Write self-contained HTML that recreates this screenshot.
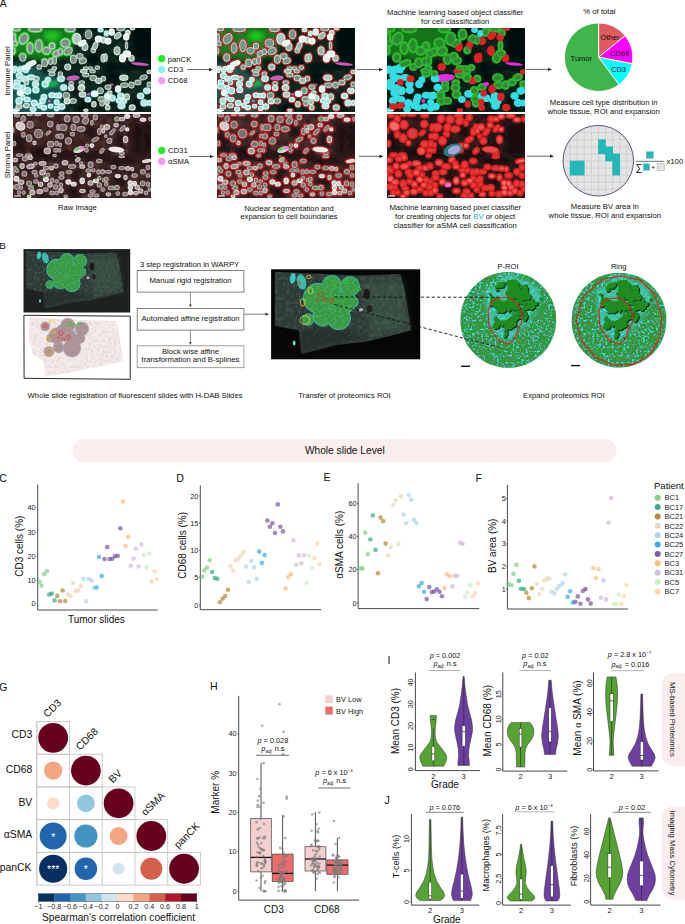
<!DOCTYPE html>
<html><head><meta charset="utf-8"><style>
html,body{margin:0;padding:0;background:#fff;}
svg{display:block;}
text{font-family:"Liberation Sans", sans-serif;}
</style></head><body>
<svg width="685" height="924" viewBox="0 0 685 924">
<rect width="685" height="924" fill="#fff"/>
<defs><g id="i_tumor0"><ellipse cx="3.4" cy="1.0" rx="3.3" ry="1.9"/><ellipse cx="22.2" cy="1.3" rx="6.3" ry="2.3"/><ellipse cx="10.7" cy="10.7" rx="4.1" ry="5.5" transform="rotate(30 10.7 10.7)"/><ellipse cx="1" cy="10" rx="1.5" ry="4.4"/><ellipse cx="2" cy="15.4" rx="2.3" ry="2.3"/><ellipse cx="17.1" cy="20.1" rx="3.0" ry="5.2"/><ellipse cx="25.9" cy="17.8" rx="3.3" ry="5.9"/><ellipse cx="33.6" cy="22.8" rx="3.8" ry="3.3"/><ellipse cx="39" cy="18.1" rx="2.7" ry="3.0"/><ellipse cx="43.3" cy="25.5" rx="3.3" ry="2.7" transform="rotate(-30 43.3 25.5)"/><ellipse cx="9.7" cy="29.5" rx="3.0" ry="3.8"/><ellipse cx="0.7" cy="22.8" rx="1.2" ry="3.0"/><ellipse cx="31.6" cy="34.9" rx="3.0" ry="3.8"/><ellipse cx="37.6" cy="33.6" rx="2.3" ry="3.0"/><ellipse cx="41.6" cy="32.2" rx="1.9" ry="4.1"/><ellipse cx="26.2" cy="39" rx="2.3" ry="2.3"/><ellipse cx="41.3" cy="40.3" rx="2.3" ry="1.7"/><ellipse cx="57.4" cy="1.3" rx="4.9" ry="2.3"/><ellipse cx="52.4" cy="15.1" rx="4.4" ry="4.1"/><ellipse cx="55.1" cy="23.2" rx="4.4" ry="3.3" transform="rotate(-30 55.1 23.2)"/><ellipse cx="47.3" cy="23.8" rx="2.3" ry="3.0"/><ellipse cx="75.5" cy="6.4" rx="3.3" ry="4.4"/><ellipse cx="80.3" cy="22.2" rx="2.3" ry="2.6"/><ellipse cx="60.4" cy="31.2" rx="3.0" ry="4.1"/><ellipse cx="66.8" cy="28.2" rx="3.3" ry="2.7"/><ellipse cx="69.8" cy="32.9" rx="3.8" ry="2.7" transform="rotate(-20 69.8 32.9)"/><ellipse cx="84.3" cy="39.6" rx="2.3" ry="1.9"/><ellipse cx="72.9" cy="40.3" rx="2.6" ry="1.6"/><ellipse cx="77.6" cy="40.3" rx="2.3" ry="1.6"/><ellipse cx="107.8" cy="1" rx="4.1" ry="1.9"/><ellipse cx="113.5" cy="17.5" rx="1.2" ry="3.8"/><ellipse cx="39" cy="46" rx="3.0" ry="1.9"/><ellipse cx="38.6" cy="42.7" rx="3.8" ry="1.2"/><ellipse cx="47.3" cy="46" rx="2.3" ry="2.3"/><ellipse cx="79.6" cy="43.3" rx="2.7" ry="1.7"/><ellipse cx="72.9" cy="47" rx="3.3" ry="1.9"/><ellipse cx="80.3" cy="50.1" rx="3.3" ry="2.7"/><ellipse cx="90.3" cy="50.7" rx="2.3" ry="2.3"/><ellipse cx="68.8" cy="54.8" rx="2.7" ry="1.9"/><ellipse cx="58.1" cy="55.4" rx="2.3" ry="1.9"/><ellipse cx="87.3" cy="62.8" rx="3.0" ry="3.0"/><ellipse cx="53.4" cy="67.5" rx="3.3" ry="3.0"/><ellipse cx="60.1" cy="72.9" rx="3.3" ry="2.3"/><ellipse cx="88.3" cy="70.9" rx="3.3" ry="2.3"/><ellipse cx="89" cy="75.6" rx="2.3" ry="2.3"/><ellipse cx="111.5" cy="57.1" rx="3.8" ry="2.3"/><ellipse cx="118.5" cy="57.1" rx="2.7" ry="3.0"/><ellipse cx="95" cy="59.1" rx="3.0" ry="2.3"/><ellipse cx="130.6" cy="49.4" rx="3.8" ry="2.3" transform="rotate(-20 130.6 49.4)"/><ellipse cx="124.9" cy="54.4" rx="3.0" ry="2.3"/><ellipse cx="136.3" cy="56.4" rx="2.3" ry="2.3"/></g><g id="i_tumor1"><ellipse cx="63.8" cy="10.7" rx="4.1" ry="5.5"/><ellipse cx="90.3" cy="12.1" rx="2.3" ry="3.0"/><ellipse cx="114.8" cy="4.7" rx="2.3" ry="2.3"/><ellipse cx="58.1" cy="60.1" rx="2.7" ry="2.7"/><ellipse cx="68.5" cy="59.8" rx="3.3" ry="2.7"/><ellipse cx="69.5" cy="66.5" rx="3.3" ry="2.7"/><ellipse cx="54.1" cy="73.2" rx="3.0" ry="2.7"/><ellipse cx="110.8" cy="49.7" rx="4.1" ry="2.7"/></g><g id="i_tumor2"><ellipse cx="18.1" cy="35.6" rx="5.2" ry="2.3" transform="rotate(-20 18.1 35.6)"/><ellipse cx="69.2" cy="15.1" rx="4.1" ry="2.3" transform="rotate(-30 69.2 15.1)"/><ellipse cx="85.6" cy="11.1" rx="3.3" ry="3.0"/><ellipse cx="98.7" cy="4" rx="2.7" ry="3.3"/><ellipse cx="113.8" cy="25.9" rx="3.8" ry="3.0"/><ellipse cx="109.5" cy="30.2" rx="3.0" ry="3.8"/></g><g id="i_tumor"><use href="#i_tumor0"/><use href="#i_tumor1"/><use href="#i_tumor2"/></g><g id="i_cd30"><ellipse cx="2" cy="40.3" rx="2.3" ry="1.7"/><ellipse cx="8" cy="40.3" rx="2.3" ry="1.7"/><ellipse cx="87.6" cy="2" rx="2.3" ry="1.7"/><ellipse cx="1.3" cy="43" rx="1.7" ry="1.7"/><ellipse cx="6.7" cy="42.7" rx="2.3" ry="1.7"/><ellipse cx="6.4" cy="47.7" rx="3.0" ry="2.7"/><ellipse cx="18.1" cy="49.4" rx="3.8" ry="2.3"/><ellipse cx="4" cy="54.1" rx="3.0" ry="2.3"/><ellipse cx="4" cy="58.5" rx="3.8" ry="2.7"/><ellipse cx="10.1" cy="59.5" rx="2.3" ry="2.3"/><ellipse cx="14.4" cy="62.8" rx="3.3" ry="3.3"/><ellipse cx="22.8" cy="62.1" rx="3.0" ry="2.7"/><ellipse cx="10.1" cy="69.5" rx="1.9" ry="2.3"/><ellipse cx="14.1" cy="71.5" rx="3.0" ry="2.3"/><ellipse cx="6" cy="72.9" rx="3.0" ry="3.0"/><ellipse cx="21.2" cy="74.9" rx="3.0" ry="2.7"/><ellipse cx="20.1" cy="81" rx="2.7" ry="2.3"/><ellipse cx="2.7" cy="82.3" rx="2.3" ry="1.6"/><ellipse cx="32.2" cy="56.1" rx="3.0" ry="3.0"/><ellipse cx="30.9" cy="68.9" rx="2.7" ry="2.3"/><ellipse cx="29.5" cy="72.9" rx="2.7" ry="2.3"/><ellipse cx="39" cy="67.2" rx="3.0" ry="2.3"/><ellipse cx="43.7" cy="67.5" rx="2.3" ry="2.3"/><ellipse cx="43.7" cy="74.2" rx="2.3" ry="2.3"/><ellipse cx="37.6" cy="78.3" rx="2.3" ry="1.9"/><ellipse cx="30.9" cy="79.6" rx="2.7" ry="2.3"/><ellipse cx="43.7" cy="80.3" rx="2.3" ry="2.3"/><ellipse cx="26.9" cy="77.6" rx="2.3" ry="2.3"/><ellipse cx="48" cy="50.7" rx="3.3" ry="2.7"/><ellipse cx="46.7" cy="67.5" rx="1.7" ry="2.7"/><ellipse cx="74.9" cy="71.5" rx="2.7" ry="2.3"/><ellipse cx="48.7" cy="78.6" rx="3.0" ry="2.7"/><ellipse cx="99.4" cy="70.2" rx="2.7" ry="2.7"/><ellipse cx="107.8" cy="67.9" rx="3.0" ry="2.7"/><ellipse cx="105.8" cy="72.6" rx="2.3" ry="2.3"/><ellipse cx="111.1" cy="72.9" rx="2.3" ry="2.3"/><ellipse cx="127.6" cy="67.9" rx="3.0" ry="2.7"/><ellipse cx="136.3" cy="74.9" rx="2.3" ry="2.3"/></g><g id="i_cd31"><ellipse cx="93.3" cy="5.4" rx="1.9" ry="2.3"/><ellipse cx="12.8" cy="42.7" rx="2.5" ry="1.7"/><ellipse cx="10.7" cy="50.7" rx="3.3" ry="2.7"/><ellipse cx="22.5" cy="56.1" rx="3.0" ry="3.0"/><ellipse cx="34.9" cy="51.7" rx="2.3" ry="2.3"/><ellipse cx="50.7" cy="59.5" rx="3.0" ry="2.7"/><ellipse cx="108.5" cy="77.9" rx="3.3" ry="2.7"/><ellipse cx="134" cy="62.8" rx="3.3" ry="2.7"/><ellipse cx="131" cy="74.9" rx="3.0" ry="3.0"/></g><g id="i_cd32"><ellipse cx="13.4" cy="39.6" rx="3.8" ry="2.3"/><ellipse cx="7.4" cy="64.8" rx="3.0" ry="3.0"/><ellipse cx="81.6" cy="65.8" rx="3.3" ry="2.7"/><ellipse cx="94.7" cy="68.2" rx="3.0" ry="3.0"/></g><g id="i_cd3"><use href="#i_cd30"/><use href="#i_cd31"/><use href="#i_cd32"/></g><g id="i_red0"><ellipse cx="71.9" cy="18.8" rx="3.0" ry="3.8"/><ellipse cx="82.3" cy="17.8" rx="2.3" ry="4.1" transform="rotate(20 82.3 17.8)"/><ellipse cx="54.7" cy="39" rx="3.0" ry="3.0"/><ellipse cx="90.3" cy="30.2" rx="2.3" ry="3.8"/><ellipse cx="104.8" cy="7.7" rx="3.8" ry="2.5" transform="rotate(-40 104.8 7.7)"/><ellipse cx="119.5" cy="0.7" rx="2.3" ry="1.2"/><ellipse cx="104.1" cy="22.8" rx="3.0" ry="4.1"/><ellipse cx="118.5" cy="30.2" rx="2.7" ry="3.0"/><ellipse cx="92.7" cy="29.5" rx="1.6" ry="3.8"/><ellipse cx="23.5" cy="50.7" rx="2.7" ry="2.3"/><ellipse cx="13.4" cy="54.4" rx="2.3" ry="2.3"/><ellipse cx="13.4" cy="77.6" rx="3.0" ry="2.3"/><ellipse cx="6" cy="78.6" rx="3.0" ry="2.3"/><ellipse cx="70.8" cy="43.3" rx="3.3" ry="1.9"/><ellipse cx="85.6" cy="52.7" rx="3.0" ry="2.7"/><ellipse cx="80.9" cy="76.3" rx="2.3" ry="2.7"/><ellipse cx="72.9" cy="82.3" rx="2.3" ry="1.2"/><ellipse cx="96.7" cy="65.2" rx="2.3" ry="2.3"/><ellipse cx="113.8" cy="68.9" rx="2.7" ry="3.0"/><ellipse cx="119.2" cy="79.6" rx="3.0" ry="2.7"/><ellipse cx="94" cy="74.2" rx="2.3" ry="2.3"/><ellipse cx="94.7" cy="79.6" rx="2.3" ry="2.3"/><ellipse cx="136.3" cy="44" rx="2.3" ry="1.7"/></g><g id="i_red1"></g><g id="i_red2"><ellipse cx="113.2" cy="9.1" rx="2.7" ry="3.0"/><ellipse cx="95" cy="13.1" rx="3.0" ry="3.0"/><ellipse cx="105.1" cy="61.1" rx="2.7" ry="3.3"/></g><g id="i_red"><use href="#i_red0"/><use href="#i_red1"/><use href="#i_red2"/></g><g id="i_all"><use href="#i_tumor"/><use href="#i_cd3"/><use href="#i_red"/></g><clipPath id="gclipA"><polygon points="-3,-3 62,-3 62,10 58,28 46,30 30,33 14,30 -3,28 "/><polygon points="29,50 46,50 46,62 29,62"/></clipPath><g id="s_0"><ellipse cx="4" cy="1.3" rx="2.5" ry="1.6"/><ellipse cx="10.1" cy="4.7" rx="2.2" ry="2.8"/><ellipse cx="17.1" cy="10.7" rx="3.1" ry="3.4"/><ellipse cx="25.5" cy="19.5" rx="4.0" ry="4.3"/><ellipse cx="16.1" cy="24.2" rx="2.8" ry="3.4"/><ellipse cx="10.4" cy="20.8" rx="1.8" ry="2.5"/><ellipse cx="35.3" cy="18.8" rx="2.8" ry="1.2" transform="rotate(-40 35.3 18.8)"/><ellipse cx="37.3" cy="10.1" rx="2.8" ry="2.8"/><ellipse cx="37.6" cy="1.3" rx="3.1" ry="1.6"/><ellipse cx="24.8" cy="0.7" rx="3.1" ry="0.9"/><ellipse cx="16.8" cy="0.7" rx="2.5" ry="0.9"/><ellipse cx="45" cy="13.4" rx="1.3" ry="2.8"/><ellipse cx="1.3" cy="29.5" rx="1.6" ry="2.2"/><ellipse cx="37.6" cy="30.2" rx="3.1" ry="2.8"/><ellipse cx="43.7" cy="29.5" rx="1.8" ry="2.2"/><ellipse cx="43" cy="36.3" rx="2.2" ry="1.8"/><ellipse cx="41.6" cy="41.6" rx="1.8" ry="1.3"/><ellipse cx="6.7" cy="41" rx="3.1" ry="1.3"/><ellipse cx="15.4" cy="41" rx="3.1" ry="1.3"/><ellipse cx="0" cy="16.1" rx="0.9" ry="2.5"/><ellipse cx="44.3" cy="22.2" rx="1.6" ry="1.8"/><ellipse cx="54.1" cy="4.7" rx="2.8" ry="3.1"/><ellipse cx="63.1" cy="5.4" rx="3.1" ry="3.1"/><ellipse cx="71.5" cy="1.3" rx="3.4" ry="1.6"/><ellipse cx="72.5" cy="6.7" rx="2.8" ry="3.4" transform="rotate(30 72.5 6.7)"/><ellipse cx="82.3" cy="3.4" rx="2.2" ry="2.5"/><ellipse cx="78.9" cy="8.7" rx="1.3" ry="2.5"/><ellipse cx="50" cy="13.4" rx="4.0" ry="3.1"/><ellipse cx="60.4" cy="13.4" rx="2.5" ry="3.1"/><ellipse cx="68.2" cy="15.1" rx="4.0" ry="2.5"/><ellipse cx="48" cy="22.2" rx="2.5" ry="2.5"/><ellipse cx="59.4" cy="20.1" rx="2.2" ry="1.8"/><ellipse cx="55.4" cy="26.9" rx="3.1" ry="3.1"/><ellipse cx="86.3" cy="17.5" rx="1.8" ry="3.1"/><ellipse cx="89" cy="12.8" rx="1.6" ry="1.8"/><ellipse cx="82.3" cy="25.5" rx="3.7" ry="1.8" transform="rotate(-30 82.3 25.5)"/><ellipse cx="74.2" cy="31.6" rx="1.8" ry="1.6"/><ellipse cx="73.5" cy="36.3" rx="1.8" ry="1.8"/><ellipse cx="89" cy="36.9" rx="1.6" ry="2.8" transform="rotate(40 89 36.9)"/><ellipse cx="47.3" cy="30.9" rx="1.3" ry="1.8"/><ellipse cx="46.7" cy="36.3" rx="1.3" ry="1.8"/><ellipse cx="104.1" cy="5" rx="2.5" ry="2.2"/><ellipse cx="109.5" cy="14.4" rx="1.6" ry="3.4" transform="rotate(40 109.5 14.4)"/><ellipse cx="99.4" cy="17.8" rx="1.6" ry="3.7" transform="rotate(40 99.4 17.8)"/><ellipse cx="96.4" cy="26.9" rx="2.5" ry="2.5"/><ellipse cx="108.8" cy="39.3" rx="2.5" ry="1.3"/><ellipse cx="92.7" cy="22.2" rx="1.3" ry="1.3"/><ellipse cx="137" cy="5" rx="1.3" ry="1.8"/><ellipse cx="11.8" cy="44.7" rx="2.5" ry="2.2"/><ellipse cx="2" cy="55.1" rx="1.8" ry="2.5"/><ellipse cx="4" cy="56.8" rx="1.8" ry="1.8"/><ellipse cx="11.4" cy="59.8" rx="2.5" ry="2.5"/><ellipse cx="21.5" cy="58.1" rx="2.5" ry="1.8"/><ellipse cx="23.2" cy="61.5" rx="1.8" ry="1.8"/><ellipse cx="22.5" cy="49.7" rx="1.8" ry="1.3"/><ellipse cx="32.9" cy="54.1" rx="2.5" ry="1.8"/><ellipse cx="43" cy="52.1" rx="2.2" ry="2.2"/><ellipse cx="34.9" cy="60.8" rx="1.8" ry="1.8"/><ellipse cx="16.1" cy="69.5" rx="2.5" ry="2.5"/><ellipse cx="22.8" cy="67.5" rx="2.2" ry="1.8"/><ellipse cx="39" cy="66.2" rx="1.8" ry="2.2"/><ellipse cx="43.7" cy="67.5" rx="1.8" ry="1.6"/><ellipse cx="42.6" cy="72.9" rx="2.2" ry="2.2"/><ellipse cx="4" cy="72.9" rx="2.2" ry="2.5"/><ellipse cx="8.1" cy="73.6" rx="1.6" ry="1.8"/><ellipse cx="18.1" cy="74.2" rx="2.5" ry="1.6"/><ellipse cx="32.9" cy="75.6" rx="2.2" ry="1.8"/><ellipse cx="10.7" cy="78.6" rx="1.6" ry="1.8"/><ellipse cx="6" cy="78.6" rx="1.6" ry="1.8"/><ellipse cx="39" cy="78.9" rx="2.2" ry="1.8"/><ellipse cx="43.7" cy="78.9" rx="1.8" ry="1.8"/><ellipse cx="0" cy="72.9" rx="1.3" ry="1.8"/><ellipse cx="0" cy="60.1" rx="1.3" ry="1.8"/><ellipse cx="59.1" cy="52.4" rx="3.7" ry="1.8"/><ellipse cx="68.2" cy="49.4" rx="1.8" ry="1.6"/><ellipse cx="77.6" cy="50.7" rx="2.5" ry="2.8"/><ellipse cx="86.3" cy="47" rx="2.8" ry="1.8"/><ellipse cx="56.1" cy="58.1" rx="2.8" ry="1.6"/><ellipse cx="48.7" cy="59.5" rx="2.2" ry="1.8"/><ellipse cx="48.4" cy="63.5" rx="2.5" ry="1.8"/><ellipse cx="75.5" cy="56.4" rx="2.5" ry="1.6"/><ellipse cx="80.3" cy="56.4" rx="1.8" ry="1.6"/><ellipse cx="85.6" cy="58.1" rx="1.8" ry="2.2"/><ellipse cx="89.7" cy="57.8" rx="1.8" ry="2.2"/><ellipse cx="48" cy="70.9" rx="1.8" ry="1.8"/><ellipse cx="86.3" cy="70.9" rx="2.2" ry="2.2"/><ellipse cx="86.3" cy="64.2" rx="1.8" ry="1.6"/><ellipse cx="91" cy="66.2" rx="1.6" ry="1.8"/><ellipse cx="79.6" cy="77.6" rx="2.5" ry="1.8"/><ellipse cx="77.6" cy="81.6" rx="2.5" ry="1.6"/><ellipse cx="83.6" cy="81.6" rx="2.2" ry="1.6"/><ellipse cx="89.7" cy="75.6" rx="1.8" ry="1.8"/><ellipse cx="52.7" cy="82.3" rx="1.8" ry="1.3"/><ellipse cx="108.8" cy="42.7" rx="2.8" ry="0.9"/><ellipse cx="100.4" cy="53.1" rx="2.5" ry="1.8"/><ellipse cx="108.8" cy="54.1" rx="3.1" ry="1.6"/><ellipse cx="95.4" cy="57.8" rx="3.1" ry="1.6"/><ellipse cx="121.6" cy="61.5" rx="2.8" ry="1.8"/><ellipse cx="130" cy="57.8" rx="2.5" ry="2.2"/><ellipse cx="135" cy="53.4" rx="1.8" ry="2.2"/><ellipse cx="135" cy="61.5" rx="1.8" ry="1.8"/><ellipse cx="93.3" cy="65.2" rx="1.8" ry="2.2"/><ellipse cx="93.3" cy="70.2" rx="1.8" ry="1.8"/><ellipse cx="129.6" cy="69.5" rx="2.2" ry="2.5"/><ellipse cx="135" cy="70.2" rx="1.8" ry="2.2"/><ellipse cx="133" cy="78.9" rx="1.8" ry="1.8"/><ellipse cx="112.1" cy="80" rx="2.5" ry="1.8"/><ellipse cx="98.7" cy="73.9" rx="3.4" ry="1.8"/><ellipse cx="104.1" cy="73.6" rx="2.2" ry="2.2"/><ellipse cx="104.8" cy="79.6" rx="1.8" ry="1.8"/><ellipse cx="136.3" cy="75.6" rx="1.3" ry="1.8"/></g><g id="s_1"><ellipse cx="21.5" cy="28.9" rx="1.6" ry="1.8"/><ellipse cx="34.3" cy="36.9" rx="3.1" ry="2.8"/><ellipse cx="90.3" cy="16.8" rx="1.6" ry="2.2"/><ellipse cx="109.1" cy="5" rx="2.5" ry="1.8"/><ellipse cx="123.6" cy="1.7" rx="3.4" ry="1.6"/><ellipse cx="103.1" cy="11.1" rx="2.2" ry="1.8"/><ellipse cx="94" cy="13.1" rx="2.8" ry="2.5"/><ellipse cx="112.5" cy="25.5" rx="2.2" ry="3.1"/><ellipse cx="2" cy="46" rx="2.5" ry="1.8"/><ellipse cx="17.1" cy="43.7" rx="2.2" ry="1.8"/><ellipse cx="9.1" cy="52.1" rx="2.2" ry="2.5"/><ellipse cx="17.5" cy="52.4" rx="3.7" ry="2.2" transform="rotate(-10 17.5 52.4)"/><ellipse cx="29.5" cy="49.4" rx="3.4" ry="1.8"/><ellipse cx="38.3" cy="54.1" rx="2.2" ry="1.8"/><ellipse cx="29.5" cy="58.5" rx="2.8" ry="2.5"/><ellipse cx="8.1" cy="68.2" rx="2.8" ry="2.2"/><ellipse cx="27.5" cy="70.2" rx="2.2" ry="2.2"/><ellipse cx="36.9" cy="70.9" rx="2.2" ry="2.2"/><ellipse cx="26.9" cy="77.6" rx="2.8" ry="2.2"/><ellipse cx="19.5" cy="78.6" rx="2.5" ry="2.2"/><ellipse cx="52" cy="48.7" rx="2.8" ry="2.2"/><ellipse cx="64.8" cy="45.7" rx="2.5" ry="1.8" transform="rotate(-40 64.8 45.7)"/><ellipse cx="69.2" cy="52.7" rx="2.5" ry="1.6"/><ellipse cx="48" cy="76.3" rx="2.2" ry="2.5"/><ellipse cx="77.6" cy="68.9" rx="2.5" ry="2.2"/><ellipse cx="69.5" cy="76.9" rx="2.8" ry="1.6"/><ellipse cx="114.8" cy="54.4" rx="2.2" ry="1.8"/><ellipse cx="119.2" cy="55.1" rx="1.6" ry="1.8"/><ellipse cx="112.5" cy="63.5" rx="1.6" ry="2.2"/><ellipse cx="124.2" cy="73.2" rx="2.2" ry="2.2"/><ellipse cx="127.6" cy="76.9" rx="2.2" ry="2.2"/><ellipse cx="122.9" cy="79" rx="2.2" ry="1.8"/><ellipse cx="95.4" cy="80.3" rx="2.2" ry="1.6"/></g><g id="s_2"><ellipse cx="7.4" cy="12.1" rx="4.6" ry="4.0" transform="rotate(30 7.4 12.1)"/><ellipse cx="78.9" cy="31.6" rx="1.8" ry="1.8"/><ellipse cx="114.2" cy="2.4" rx="2.5" ry="1.8"/><ellipse cx="130" cy="5.7" rx="2.8" ry="1.6"/><ellipse cx="114.2" cy="15.4" rx="1.6" ry="1.6"/><ellipse cx="3.4" cy="64.8" rx="2.5" ry="2.5"/><ellipse cx="32.9" cy="65.5" rx="2.5" ry="2.2"/><ellipse cx="16.1" cy="82.3" rx="1.8" ry="1.3"/><ellipse cx="75.9" cy="61.1" rx="1.8" ry="1.8"/><ellipse cx="69.2" cy="66.8" rx="2.2" ry="2.8"/><ellipse cx="55.4" cy="67.9" rx="2.5" ry="2.2"/><ellipse cx="60.8" cy="70.2" rx="2.5" ry="1.8"/><ellipse cx="82.9" cy="66.8" rx="2.5" ry="1.8"/><ellipse cx="133.6" cy="47" rx="4.3" ry="1.3" transform="rotate(-10 133.6 47)"/><ellipse cx="104.8" cy="62.1" rx="2.5" ry="1.6"/><ellipse cx="117.2" cy="68.9" rx="2.2" ry="2.2"/><ellipse cx="121.6" cy="69.5" rx="1.8" ry="2.2"/><ellipse cx="117.5" cy="73.6" rx="2.2" ry="2.2"/><ellipse cx="117.5" cy="78.6" rx="2.2" ry="2.2"/></g><g id="s_all"><use href="#s_0"/><use href="#s_1"/><use href="#s_2"/></g>
<filter id="fblur" x="-10%" y="-10%" width="120%" height="120%"><feGaussianBlur stdDeviation="2.5"/></filter><filter id="fblur1" x="-20%" y="-20%" width="140%" height="140%"><feGaussianBlur stdDeviation="1.5"/></filter>
<filter id="soft" x="0" y="0" width="100%" height="100%"><feGaussianBlur stdDeviation="0.45"/></filter>
<filter id="fnoise" x="0" y="0" width="100%" height="100%"><feTurbulence type="fractalNoise" baseFrequency="0.15" numOctaves="2" seed="3" result="t"/><feColorMatrix in="t" type="matrix" values="0 0 0 0 0  0 0 0 0 0  0 0 0 0 0  1.4 0 0 0 -0.35" result="a"/><feComposite in="SourceGraphic" in2="a" operator="in"/></filter>
</defs>
<text x="-0.2" y="7.4" font-size="10.2" text-anchor="start" fill="#111" >A</text>
<text transform="translate(10.3,71.0) rotate(-90)" font-size="7.7" text-anchor="middle" fill="#111" >Immune Panel</text>
<text transform="translate(10.3,155.0) rotate(-90)" font-size="7.7" text-anchor="middle" fill="#111" >Stroma Panel</text>
<clipPath id="c1"><rect x="0" y="0" width="138" height="84"/></clipPath>
<g transform="translate(13,28)" clip-path="url(#c1)"><g filter="url(#soft)">
<rect width="138" height="84" fill="#0a1c15"/>
<rect width="138" height="84" fill="#2c6a58" opacity="0.38" filter="url(#fnoise)"/>
<polygon points="118,-3 141,-3 141,34 121,33 118,20" fill="#040907" opacity="0.85" filter="url(#fblur)"/>
<polygon points="75,25 86,25 88,38 76,38" fill="#040907" opacity="0.85" filter="url(#fblur)"/>
<polygon points="28,57 46,56 48,64 30,65" fill="#040907" opacity="0.85" filter="url(#fblur)"/>
<polygon points="92,42 106,42 104,54 92,55" fill="#040907" opacity="0.85" filter="url(#fblur)"/>
<polygon points="63,75 77,74 77,86 63,86" fill="#040907" opacity="0.85" filter="url(#fblur)"/>
<polygon points="92,35 141,36 141,42 92,42" fill="#040907" opacity="0.85" filter="url(#fblur)"/>
<polygon points="122,68 129,68 129,84 122,84" fill="#040907" opacity="0.85" filter="url(#fblur)"/>
<polygon points="0,26 7,26 7,35 0,35" fill="#040907" opacity="0.85" filter="url(#fblur)"/>
<polygon points="-3,-3 62,-3 62,10 58,28 46,30 30,33 14,30 -3,28" fill="#22c022" opacity="0.55" filter="url(#fblur)"/>
<ellipse cx="39" cy="8" rx="8" ry="5" fill="#22f022" opacity="0.7" filter="url(#fblur)"/>
<polygon points="29,53 44,52 46,58 30,61" fill="#22e822" opacity="0.7" filter="url(#fblur1)"/>
<polygon points="-3,34 22,36 30,46 50,50 52,62 48,70 52,87 -3,87" fill="#2aa0a0" opacity="0.4" filter="url(#fblur)"/>
<g clip-path="url(#gclipA)"><use href="#i_tumor" fill="none" stroke="#30e030" stroke-width="3.4" opacity="0.8"/></g>
<use href="#i_cd3" fill="none" stroke="#40d0d0" stroke-width="2.6" opacity="0.5"/>
<ellipse cx="60.1" cy="50.1" rx="6.7" ry="2.7" transform="rotate(-5 60.1 50.1)" fill="#e868d8" stroke="none" stroke-width="0" opacity="0.85"/>
<ellipse cx="127.0" cy="36.0" rx="9.0" ry="1.5" transform="rotate(6 127.0 36.0)" fill="#e868d8" stroke="none" stroke-width="0" opacity="0.85"/>
<ellipse cx="98.7" cy="56.4" rx="2.0" ry="1.0" transform="rotate(0 98.7 56.4)" fill="#e868d8" stroke="none" stroke-width="0" opacity="0.85"/>
<ellipse cx="75.5" cy="66.2" rx="1.5" ry="1.5" transform="rotate(0 75.5 66.2)" fill="#e868d8" stroke="none" stroke-width="0" opacity="0.85"/>
<ellipse cx="87.6" cy="2.0" rx="2.0" ry="1.5" transform="rotate(0 87.6 2.0)" fill="#e868d8" stroke="none" stroke-width="0" opacity="0.85"/>
<ellipse cx="36.3" cy="72.9" rx="1.5" ry="1.5" transform="rotate(0 36.3 72.9)" fill="#e868d8" stroke="none" stroke-width="0" opacity="0.85"/>
<use href="#i_cd3" fill="#a8dcd6" stroke="#e0fffc" stroke-width="1.1"/>
<use href="#i_tumor0" fill="#7c9286" stroke="#c0d2c6" stroke-width="1.1"/>
<use href="#i_red0" fill="#9cb2a6" stroke="#d6e6dc" stroke-width="1.1"/>
<use href="#i_tumor1" fill="#b4c8be" stroke="#e4f0ea" stroke-width="1.1"/>
<use href="#i_tumor2" fill="#e4f0ea" stroke="#ffffff" stroke-width="1.1"/>
<use href="#i_red1" fill="#b4c8be" stroke="#e4f0ea" stroke-width="1.1"/>
<use href="#i_red2" fill="#e4f0ea" stroke="#ffffff" stroke-width="1.1"/>
<use href="#i_cd31" fill="#bfe6e2"/><use href="#i_cd32" fill="#e8fbf9"/>
</g>
<rect x="1" y="81.8" width="6" height="1.1" fill="#fff"/>
</g>
<clipPath id="c2"><rect x="0" y="0" width="138" height="84"/></clipPath>
<g transform="translate(13,114)" clip-path="url(#c2)"><g filter="url(#soft)">
<rect width="138" height="84" fill="#301a1a"/>
<rect width="138" height="84" fill="#7a5656" opacity="0.55" filter="url(#fnoise)"/>
<polygon points="118,8 141,8 141,42 118,42" fill="#1c0c0c" opacity="0.8" filter="url(#fblur)"/>
<polygon points="20,37 95,38 95,46 20,46" fill="#1c0c0c" opacity="0.8" filter="url(#fblur)"/>
<polygon points="0,22 12,22 12,38 0,38" fill="#1c0c0c" opacity="0.8" filter="url(#fblur)"/>
<polygon points="20,32 34,32 34,42 20,42" fill="#1c0c0c" opacity="0.8" filter="url(#fblur)"/>
<polygon points="73,13 84,13 84,24 73,24" fill="#1c0c0c" opacity="0.8" filter="url(#fblur)"/>
<polygon points="92,42 125,42 125,51 92,51" fill="#1c0c0c" opacity="0.8" filter="url(#fblur)"/>
<polygon points="55,72 66,72 66,86 55,86" fill="#1c0c0c" opacity="0.8" filter="url(#fblur)"/>
<polygon points="99,64 114,64 114,72 99,72" fill="#1c0c0c" opacity="0.8" filter="url(#fblur)"/>
<polygon points="102,19 109,19 109,32 102,32" fill="#1c0c0c" opacity="0.8" filter="url(#fblur)"/>
<polygon points="59,55 67,55 67,63 59,63" fill="#1c0c0c" opacity="0.8" filter="url(#fblur)"/>
<use href="#s_0" fill="#7e6e6e" stroke="#b8a8a8" stroke-width="1.1"/>
<use href="#s_1" fill="#a49494" stroke="#d8caca" stroke-width="1.1"/>
<use href="#s_2" fill="#d4c8c8" stroke="#f2ecec" stroke-width="1.1"/>
<ellipse cx="103.4" cy="35.6" rx="7.7" ry="2.4" transform="rotate(5 103.4 35.6)" fill="#f6eaea" stroke="#fff" stroke-width="0.8"/>
<ellipse cx="66.1" cy="35.6" rx="6.0" ry="3.0" transform="rotate(-20 66.1 35.6)" fill="#e8d0e0" stroke="none" stroke-width="0"/>
<ellipse cx="64.0" cy="35.0" rx="3.0" ry="1.5" transform="rotate(-20 64.0 35.0)" fill="#40d040" stroke="none" stroke-width="0" opacity="0.8"/>
<ellipse cx="69.0" cy="34.0" rx="2.5" ry="1.5" transform="rotate(-20 69.0 34.0)" fill="#e070d0" stroke="none" stroke-width="0" opacity="0.8"/>
<circle cx="103" cy="5" r="1.1" fill="#30e030" opacity="0.8"/>
<circle cx="20" cy="72" r="1.1" fill="#30e030" opacity="0.8"/>
<circle cx="16" cy="82" r="1.1" fill="#30e030" opacity="0.8"/>
<circle cx="100" cy="74" r="1.1" fill="#30e030" opacity="0.8"/>
<circle cx="4" cy="55" r="1.1" fill="#30e030" opacity="0.8"/>
<circle cx="83" cy="66" r="1.1" fill="#30e030" opacity="0.8"/>
<circle cx="63" cy="42" r="1.1" fill="#30e030" opacity="0.8"/>
<circle cx="31" cy="63" r="1.1" fill="#30e030" opacity="0.8"/>
</g>
<rect x="1.3" y="81.4" width="6.7" height="1.1" fill="#fff"/>
</g>
<clipPath id="c3"><rect x="0" y="0" width="138" height="84"/></clipPath>
<g transform="translate(217,28)" clip-path="url(#c3)"><g filter="url(#soft)">
<rect width="138" height="84" fill="#0a1c15"/>
<rect width="138" height="84" fill="#2c6a58" opacity="0.38" filter="url(#fnoise)"/>
<polygon points="118,-3 141,-3 141,34 121,33 118,20" fill="#040907" opacity="0.85" filter="url(#fblur)"/>
<polygon points="75,25 86,25 88,38 76,38" fill="#040907" opacity="0.85" filter="url(#fblur)"/>
<polygon points="28,57 46,56 48,64 30,65" fill="#040907" opacity="0.85" filter="url(#fblur)"/>
<polygon points="92,42 106,42 104,54 92,55" fill="#040907" opacity="0.85" filter="url(#fblur)"/>
<polygon points="63,75 77,74 77,86 63,86" fill="#040907" opacity="0.85" filter="url(#fblur)"/>
<polygon points="92,35 141,36 141,42 92,42" fill="#040907" opacity="0.85" filter="url(#fblur)"/>
<polygon points="122,68 129,68 129,84 122,84" fill="#040907" opacity="0.85" filter="url(#fblur)"/>
<polygon points="0,26 7,26 7,35 0,35" fill="#040907" opacity="0.85" filter="url(#fblur)"/>
<polygon points="-3,-3 62,-3 62,10 58,28 46,30 30,33 14,30 -3,28" fill="#22c022" opacity="0.55" filter="url(#fblur)"/>
<ellipse cx="39" cy="8" rx="8" ry="5" fill="#22f022" opacity="0.7" filter="url(#fblur)"/>
<polygon points="29,53 44,52 46,58 30,61" fill="#22e822" opacity="0.7" filter="url(#fblur1)"/>
<polygon points="-3,34 22,36 30,46 50,50 52,62 48,70 52,87 -3,87" fill="#2aa0a0" opacity="0.4" filter="url(#fblur)"/>
<g clip-path="url(#gclipA)"><use href="#i_tumor" fill="none" stroke="#30e030" stroke-width="3.4" opacity="0.8"/></g>
<use href="#i_cd3" fill="none" stroke="#40d0d0" stroke-width="2.6" opacity="0.5"/>
<ellipse cx="60.1" cy="50.1" rx="6.7" ry="2.7" transform="rotate(-5 60.1 50.1)" fill="#e868d8" stroke="none" stroke-width="0" opacity="0.85"/>
<ellipse cx="127.0" cy="36.0" rx="9.0" ry="1.5" transform="rotate(6 127.0 36.0)" fill="#e868d8" stroke="none" stroke-width="0" opacity="0.85"/>
<ellipse cx="98.7" cy="56.4" rx="2.0" ry="1.0" transform="rotate(0 98.7 56.4)" fill="#e868d8" stroke="none" stroke-width="0" opacity="0.85"/>
<ellipse cx="75.5" cy="66.2" rx="1.5" ry="1.5" transform="rotate(0 75.5 66.2)" fill="#e868d8" stroke="none" stroke-width="0" opacity="0.85"/>
<ellipse cx="87.6" cy="2.0" rx="2.0" ry="1.5" transform="rotate(0 87.6 2.0)" fill="#e868d8" stroke="none" stroke-width="0" opacity="0.85"/>
<ellipse cx="36.3" cy="72.9" rx="1.5" ry="1.5" transform="rotate(0 36.3 72.9)" fill="#e868d8" stroke="none" stroke-width="0" opacity="0.85"/>
<use href="#i_all" fill="none" stroke="#c81c1c" stroke-width="3.4"/>
<use href="#i_all" fill="none" stroke="#1e302a" stroke-width="1.5"/>
<use href="#i_cd3" fill="#a8dcd6" stroke="#e0fffc" stroke-width="1.1"/>
<use href="#i_tumor0" fill="#7c9286" stroke="#c0d2c6" stroke-width="1.1"/>
<use href="#i_red0" fill="#9cb2a6" stroke="#d6e6dc" stroke-width="1.1"/>
<use href="#i_tumor1" fill="#b4c8be" stroke="#e4f0ea" stroke-width="1.1"/>
<use href="#i_tumor2" fill="#e4f0ea" stroke="#ffffff" stroke-width="1.1"/>
<use href="#i_red1" fill="#b4c8be" stroke="#e4f0ea" stroke-width="1.1"/>
<use href="#i_red2" fill="#e4f0ea" stroke="#ffffff" stroke-width="1.1"/>
<use href="#i_cd31" fill="#bfe6e2"/><use href="#i_cd32" fill="#e8fbf9"/>
</g>
<rect x="1" y="81.8" width="6" height="1.1" fill="#fff"/>
</g>
<clipPath id="c4"><rect x="0" y="0" width="138" height="84"/></clipPath>
<g transform="translate(217,114)" clip-path="url(#c4)"><g filter="url(#soft)">
<rect width="138" height="84" fill="#301a1a"/>
<rect width="138" height="84" fill="#7a5656" opacity="0.55" filter="url(#fnoise)"/>
<polygon points="118,8 141,8 141,42 118,42" fill="#1c0c0c" opacity="0.8" filter="url(#fblur)"/>
<polygon points="20,37 95,38 95,46 20,46" fill="#1c0c0c" opacity="0.8" filter="url(#fblur)"/>
<polygon points="0,22 12,22 12,38 0,38" fill="#1c0c0c" opacity="0.8" filter="url(#fblur)"/>
<polygon points="20,32 34,32 34,42 20,42" fill="#1c0c0c" opacity="0.8" filter="url(#fblur)"/>
<polygon points="73,13 84,13 84,24 73,24" fill="#1c0c0c" opacity="0.8" filter="url(#fblur)"/>
<polygon points="92,42 125,42 125,51 92,51" fill="#1c0c0c" opacity="0.8" filter="url(#fblur)"/>
<polygon points="55,72 66,72 66,86 55,86" fill="#1c0c0c" opacity="0.8" filter="url(#fblur)"/>
<polygon points="99,64 114,64 114,72 99,72" fill="#1c0c0c" opacity="0.8" filter="url(#fblur)"/>
<polygon points="102,19 109,19 109,32 102,32" fill="#1c0c0c" opacity="0.8" filter="url(#fblur)"/>
<polygon points="59,55 67,55 67,63 59,63" fill="#1c0c0c" opacity="0.8" filter="url(#fblur)"/>
<use href="#s_all" fill="none" stroke="#cc1e1e" stroke-width="3.4"/>
<use href="#s_all" fill="none" stroke="#3a2020" stroke-width="1.5"/>
<use href="#s_0" fill="#7e6e6e" stroke="#b8a8a8" stroke-width="1.1"/>
<use href="#s_1" fill="#a49494" stroke="#d8caca" stroke-width="1.1"/>
<use href="#s_2" fill="#d4c8c8" stroke="#f2ecec" stroke-width="1.1"/>
<ellipse cx="103.4" cy="35.6" rx="7.7" ry="2.4" transform="rotate(5 103.4 35.6)" fill="#f6eaea" stroke="#fff" stroke-width="0.8"/>
<ellipse cx="103.4" cy="35.6" rx="8.9" ry="3.6" transform="rotate(5 103.4 35.6)" fill="none" stroke="#d42020" stroke-width="0.8"/>
<ellipse cx="66.1" cy="35.6" rx="6.0" ry="3.0" transform="rotate(-20 66.1 35.6)" fill="#e8d0e0" stroke="none" stroke-width="0"/>
<ellipse cx="64.0" cy="35.0" rx="3.0" ry="1.5" transform="rotate(-20 64.0 35.0)" fill="#40d040" stroke="none" stroke-width="0" opacity="0.8"/>
<ellipse cx="69.0" cy="34.0" rx="2.5" ry="1.5" transform="rotate(-20 69.0 34.0)" fill="#e070d0" stroke="none" stroke-width="0" opacity="0.8"/>
<circle cx="103" cy="5" r="1.1" fill="#30e030" opacity="0.8"/>
<circle cx="20" cy="72" r="1.1" fill="#30e030" opacity="0.8"/>
<circle cx="16" cy="82" r="1.1" fill="#30e030" opacity="0.8"/>
<circle cx="100" cy="74" r="1.1" fill="#30e030" opacity="0.8"/>
<circle cx="4" cy="55" r="1.1" fill="#30e030" opacity="0.8"/>
<circle cx="83" cy="66" r="1.1" fill="#30e030" opacity="0.8"/>
<circle cx="63" cy="42" r="1.1" fill="#30e030" opacity="0.8"/>
<circle cx="31" cy="63" r="1.1" fill="#30e030" opacity="0.8"/>
</g>
<rect x="1.3" y="81.4" width="6.7" height="1.1" fill="#fff"/>
</g>
<clipPath id="c5"><rect x="0" y="0" width="138" height="84"/></clipPath>
<g transform="translate(387,28)" clip-path="url(#c5)"><g filter="url(#soft)">
<rect width="138" height="84" fill="#08140e"/>
<rect width="138" height="84" fill="#2c6a58" opacity="0.38" filter="url(#fnoise)"/>
<polygon points="118,-3 141,-3 141,34 121,33 118,20" fill="#040907" opacity="0.85" filter="url(#fblur)"/>
<polygon points="75,25 86,25 88,38 76,38" fill="#040907" opacity="0.85" filter="url(#fblur)"/>
<polygon points="28,57 46,56 48,64 30,65" fill="#040907" opacity="0.85" filter="url(#fblur)"/>
<polygon points="92,42 106,42 104,54 92,55" fill="#040907" opacity="0.85" filter="url(#fblur)"/>
<polygon points="63,75 77,74 77,86 63,86" fill="#040907" opacity="0.85" filter="url(#fblur)"/>
<polygon points="92,35 141,36 141,42 92,42" fill="#040907" opacity="0.85" filter="url(#fblur)"/>
<polygon points="122,68 129,68 129,84 122,84" fill="#040907" opacity="0.85" filter="url(#fblur)"/>
<polygon points="0,26 7,26 7,35 0,35" fill="#040907" opacity="0.85" filter="url(#fblur)"/>
<polygon points="-3,-3 62,-3 62,10 58,28 46,30 30,33 14,30 -3,28" fill="#1c9a1c" opacity="0.7" filter="url(#fblur)"/>
<use href="#i_tumor" fill="none" stroke="#2cc42c" stroke-width="3.6" opacity="0.95"/>
<ellipse cx="56.0" cy="50.0" rx="12.0" ry="3.8" transform="rotate(-5 56.0 50.0)" fill="#e02ee0" stroke="none" stroke-width="0"/>
<ellipse cx="98.7" cy="56.4" rx="3.5" ry="2.2" transform="rotate(-20 98.7 56.4)" fill="#e02ee0" stroke="none" stroke-width="0"/>
<ellipse cx="87.6" cy="2.0" rx="3.0" ry="2.5" transform="rotate(0 87.6 2.0)" fill="#e02ee0" stroke="none" stroke-width="0"/>
<ellipse cx="127.0" cy="36.0" rx="9.0" ry="1.5" transform="rotate(6 127.0 36.0)" fill="#e02ee0" stroke="none" stroke-width="0"/>
<ellipse cx="36.3" cy="72.9" rx="2.0" ry="2.0" transform="rotate(0 36.3 72.9)" fill="#e02ee0" stroke="none" stroke-width="0"/>
<use href="#i_cd3" fill="#36dde3" stroke="#36dde3" stroke-width="2.4"/>
<use href="#i_red" fill="#dc2222" stroke="#dc2222" stroke-width="2.2"/>
<use href="#i_tumor" fill="#2a8a2e" stroke="#3aa83e" stroke-width="1.0"/>
</g>
<rect x="1" y="81.8" width="6" height="1.1" fill="#fff"/>
</g>
<clipPath id="c6"><rect x="0" y="0" width="138" height="84"/></clipPath>
<g transform="translate(387,114)" clip-path="url(#c6)"><g filter="url(#soft)">
<rect width="138" height="84" fill="#241212"/>
<rect width="138" height="84" fill="#5a4040" opacity="0.5" filter="url(#fnoise)"/>
<polygon points="118,8 141,8 141,42 118,42" fill="#140808" opacity="0.8" filter="url(#fblur)"/>
<polygon points="20,37 95,38 95,46 20,46" fill="#140808" opacity="0.8" filter="url(#fblur)"/>
<polygon points="0,22 12,22 12,38 0,38" fill="#140808" opacity="0.8" filter="url(#fblur)"/>
<polygon points="20,32 34,32 34,42 20,42" fill="#140808" opacity="0.8" filter="url(#fblur)"/>
<polygon points="73,13 84,13 84,24 73,24" fill="#140808" opacity="0.8" filter="url(#fblur)"/>
<polygon points="92,42 125,42 125,51 92,51" fill="#140808" opacity="0.8" filter="url(#fblur)"/>
<polygon points="55,72 66,72 66,86 55,86" fill="#140808" opacity="0.8" filter="url(#fblur)"/>
<polygon points="99,64 114,64 114,72 99,72" fill="#140808" opacity="0.8" filter="url(#fblur)"/>
<polygon points="102,19 109,19 109,32 102,32" fill="#140808" opacity="0.8" filter="url(#fblur)"/>
<polygon points="59,55 67,55 67,63 59,63" fill="#140808" opacity="0.8" filter="url(#fblur)"/>
<use href="#s_all" fill="#d82424" stroke="#d82020" stroke-width="3.4"/>
<use href="#s_0" fill="#e43a3a"/>
<use href="#s_1" fill="#ee5252"/>
<use href="#s_2" fill="#f46a6a"/>
<ellipse cx="103.4" cy="35.6" rx="8.5" ry="3.2" transform="rotate(5 103.4 35.6)" fill="#e84848" stroke="#d01818" stroke-width="0.8"/>
<ellipse cx="66.0" cy="36.0" rx="10.0" ry="6.0" transform="rotate(-20 66.0 36.0)" fill="#2a9088" stroke="none" stroke-width="0" opacity="0.85"/>
<ellipse cx="67.0" cy="36.0" rx="6.5" ry="4.0" transform="rotate(-20 67.0 36.0)" fill="#a8a4e4" stroke="none" stroke-width="0"/>
<ellipse cx="61.0" cy="71.0" rx="3.0" ry="2.0" transform="rotate(0 61.0 71.0)" fill="#e070e0" stroke="none" stroke-width="0"/>
</g>
<rect x="1.3" y="81.4" width="6.7" height="1.1" fill="#fff"/>
</g>
<circle cx="161.7" cy="58.7" r="3.6" fill="#22ee22"/>
<text x="167.8" y="61.5" font-size="7.7" text-anchor="start" fill="#111" >panCK</text>
<circle cx="161.7" cy="69.6" r="3.6" fill="#88f2f2"/>
<text x="167.8" y="72.4" font-size="7.7" text-anchor="start" fill="#111" >CD3</text>
<circle cx="161.7" cy="80.6" r="3.6" fill="#ff99ee"/>
<text x="167.8" y="83.4" font-size="7.7" text-anchor="start" fill="#111" >CD68</text>
<circle cx="161.7" cy="150.4" r="3.6" fill="#22ee22"/>
<text x="168.0" y="153.2" font-size="7.7" text-anchor="start" fill="#111" >CD31</text>
<circle cx="161.7" cy="161.3" r="3.6" fill="#ff99ee"/>
<text x="168.0" y="164.1" font-size="7.7" text-anchor="start" fill="#111" >αSMA</text>
<line x1="187.2" y1="69.6" x2="210.0" y2="69.6" stroke="#222" stroke-width="0.7" />
<path d="M213.0,69.6 L209.0,68.0 L209.0,71.2 Z" fill="#222"/>
<line x1="189.1" y1="156.5" x2="211.0" y2="156.5" stroke="#222" stroke-width="0.7" />
<path d="M214.0,156.5 L210.0,154.9 L210.0,158.1 Z" fill="#222"/>
<line x1="357.0" y1="69.6" x2="380.0" y2="69.6" stroke="#222" stroke-width="0.7" />
<path d="M383.0,69.6 L379.0,68.0 L379.0,71.2 Z" fill="#222"/>
<line x1="359.0" y1="156.3" x2="380.5" y2="156.3" stroke="#222" stroke-width="0.7" />
<path d="M383.5,156.3 L379.5,154.7 L379.5,157.9 Z" fill="#222"/>
<line x1="526.0" y1="69.4" x2="549.0" y2="69.4" stroke="#222" stroke-width="0.7" />
<path d="M552.0,69.4 L548.0,67.8 L548.0,71.0 Z" fill="#222"/>
<line x1="527.0" y1="156.2" x2="551.0" y2="156.2" stroke="#222" stroke-width="0.7" />
<path d="M554.0,156.2 L550.0,154.6 L550.0,157.8 Z" fill="#222"/>
<text x="77.4" y="210.3" font-size="7.7" text-anchor="middle" fill="#111" >Raw Image</text>
<text x="289.0" y="210.6" font-size="7.7" text-anchor="middle" fill="#111" >Nuclear segmentation and</text>
<text x="289.0" y="219.4" font-size="7.7" text-anchor="middle" fill="#111" >expansion to cell boundaries</text>
<text x="455.2" y="15.0" font-size="7.7" text-anchor="middle" fill="#111" >Machine learning based object classifier</text>
<text x="455.2" y="24.0" font-size="7.7" text-anchor="middle" fill="#111" >for cell classification</text>
<text x="455.2" y="209.9" font-size="7.7" text-anchor="middle" fill="#111" >Machine learning based pixel classifier</text>
<text x="455.1" y="219" font-size="7.7" text-anchor="middle" fill="#111">for creating objects for <tspan fill="#1fb0c0">BV</tspan> or object</text>
<text x="455.2" y="227.6" font-size="7.7" text-anchor="middle" fill="#111" >classifier for aSMA cell classification</text>
<text x="599.4" y="13.5" font-size="7.7" text-anchor="middle" fill="#111" >% of total</text>
<text x="603.7" y="105.3" font-size="7.7" text-anchor="middle" fill="#111" >Measure cell type distribution in</text>
<text x="603.7" y="114.0" font-size="7.7" text-anchor="middle" fill="#111" >whole tissue, ROI and expansion</text>
<text x="604.8" y="209.2" font-size="7.7" text-anchor="middle" fill="#111" >Measure BV area in</text>
<text x="604.8" y="218.2" font-size="7.7" text-anchor="middle" fill="#111" >whole tissue, ROI and expansion</text>
<path d="M598.6,57.2 L598.60,23.00 A34.2,34.2 0 0 1 625.18,35.68 Z" fill="#e05a5e" stroke="#fff" stroke-width="0.9"/>
<path d="M598.6,57.2 L625.18,35.68 A34.2,34.2 0 0 1 632.17,63.73 Z" fill="#ff00ff" stroke="#fff" stroke-width="0.9"/>
<path d="M598.6,57.2 L632.17,63.73 A34.2,34.2 0 0 1 618.99,84.66 Z" fill="#00ffff" stroke="#fff" stroke-width="0.9"/>
<path d="M598.6,57.2 L618.99,84.66 A34.2,34.2 0 1 1 598.60,23.00 Z" fill="#3fb54c" stroke="#fff" stroke-width="0.9"/>
<text x="610.0" y="39.5" font-size="7.5" text-anchor="middle" fill="#111" >Other</text>
<text x="619.5" y="55.5" font-size="7.5" text-anchor="middle" fill="#111" >CD68</text>
<text x="618.5" y="71.8" font-size="7.5" text-anchor="middle" fill="#111" >CD3</text>
<text x="581.3" y="60.8" font-size="7.5" text-anchor="middle" fill="#111" >Tumor</text>
<clipPath id="gclip"><circle cx="598.3" cy="160.7" r="35.3"/></clipPath>
<g clip-path="url(#gclip)"><rect x="563.0" y="125.39999999999999" width="70.6" height="70.6" fill="#e4e4e4"/><line x1="534.65" y1="125.39999999999999" x2="534.65" y2="196.0" stroke="#c4c4c4" stroke-width="0.6"/><line x1="563.0" y1="104.25" x2="633.5999999999999" y2="104.25" stroke="#c4c4c4" stroke-width="0.6"/><line x1="541.74" y1="125.39999999999999" x2="541.74" y2="196.0" stroke="#c4c4c4" stroke-width="0.6"/><line x1="563.0" y1="111.34" x2="633.5999999999999" y2="111.34" stroke="#c4c4c4" stroke-width="0.6"/><line x1="548.83" y1="125.39999999999999" x2="548.83" y2="196.0" stroke="#c4c4c4" stroke-width="0.6"/><line x1="563.0" y1="118.43" x2="633.5999999999999" y2="118.43" stroke="#c4c4c4" stroke-width="0.6"/><line x1="555.92" y1="125.39999999999999" x2="555.92" y2="196.0" stroke="#c4c4c4" stroke-width="0.6"/><line x1="563.0" y1="125.52" x2="633.5999999999999" y2="125.52" stroke="#c4c4c4" stroke-width="0.6"/><line x1="563.01" y1="125.39999999999999" x2="563.01" y2="196.0" stroke="#c4c4c4" stroke-width="0.6"/><line x1="563.0" y1="132.61" x2="633.5999999999999" y2="132.61" stroke="#c4c4c4" stroke-width="0.6"/><line x1="570.10" y1="125.39999999999999" x2="570.10" y2="196.0" stroke="#c4c4c4" stroke-width="0.6"/><line x1="563.0" y1="139.70" x2="633.5999999999999" y2="139.70" stroke="#c4c4c4" stroke-width="0.6"/><line x1="577.19" y1="125.39999999999999" x2="577.19" y2="196.0" stroke="#c4c4c4" stroke-width="0.6"/><line x1="563.0" y1="146.79" x2="633.5999999999999" y2="146.79" stroke="#c4c4c4" stroke-width="0.6"/><line x1="584.28" y1="125.39999999999999" x2="584.28" y2="196.0" stroke="#c4c4c4" stroke-width="0.6"/><line x1="563.0" y1="153.88" x2="633.5999999999999" y2="153.88" stroke="#c4c4c4" stroke-width="0.6"/><line x1="591.37" y1="125.39999999999999" x2="591.37" y2="196.0" stroke="#c4c4c4" stroke-width="0.6"/><line x1="563.0" y1="160.97" x2="633.5999999999999" y2="160.97" stroke="#c4c4c4" stroke-width="0.6"/><line x1="598.46" y1="125.39999999999999" x2="598.46" y2="196.0" stroke="#c4c4c4" stroke-width="0.6"/><line x1="563.0" y1="168.06" x2="633.5999999999999" y2="168.06" stroke="#c4c4c4" stroke-width="0.6"/><line x1="605.55" y1="125.39999999999999" x2="605.55" y2="196.0" stroke="#c4c4c4" stroke-width="0.6"/><line x1="563.0" y1="175.15" x2="633.5999999999999" y2="175.15" stroke="#c4c4c4" stroke-width="0.6"/><line x1="612.64" y1="125.39999999999999" x2="612.64" y2="196.0" stroke="#c4c4c4" stroke-width="0.6"/><line x1="563.0" y1="182.24" x2="633.5999999999999" y2="182.24" stroke="#c4c4c4" stroke-width="0.6"/><line x1="619.73" y1="125.39999999999999" x2="619.73" y2="196.0" stroke="#c4c4c4" stroke-width="0.6"/><line x1="563.0" y1="189.33" x2="633.5999999999999" y2="189.33" stroke="#c4c4c4" stroke-width="0.6"/><line x1="626.82" y1="125.39999999999999" x2="626.82" y2="196.0" stroke="#c4c4c4" stroke-width="0.6"/><line x1="563.0" y1="196.42" x2="633.5999999999999" y2="196.42" stroke="#c4c4c4" stroke-width="0.6"/><line x1="633.91" y1="125.39999999999999" x2="633.91" y2="196.0" stroke="#c4c4c4" stroke-width="0.6"/><line x1="563.0" y1="203.51" x2="633.5999999999999" y2="203.51" stroke="#c4c4c4" stroke-width="0.6"/><rect x="598.16" y="139.40" width="7.69" height="7.69" fill="#22b8b8"/><rect x="598.16" y="146.49" width="7.69" height="7.69" fill="#22b8b8"/><rect x="605.25" y="146.49" width="7.69" height="7.69" fill="#22b8b8"/><rect x="605.25" y="153.58" width="7.69" height="7.69" fill="#22b8b8"/><rect x="612.34" y="153.58" width="7.69" height="7.69" fill="#22b8b8"/><rect x="612.34" y="160.67" width="7.69" height="7.69" fill="#22b8b8"/><rect x="612.34" y="167.76" width="7.69" height="7.69" fill="#22b8b8"/><rect x="569.80" y="160.67" width="7.69" height="7.69" fill="#22b8b8"/><rect x="576.89" y="160.67" width="7.69" height="7.69" fill="#22b8b8"/><rect x="569.80" y="167.76" width="7.69" height="7.69" fill="#22b8b8"/><rect x="576.89" y="167.76" width="7.69" height="7.69" fill="#22b8b8"/></g>
<circle cx="598.3" cy="160.7" r="35.3" fill="none" stroke="#3d4a70" stroke-width="0.9"/>
<rect x="646.3" y="151.6" width="7.2" height="6.8" fill="#22b8b8" stroke="#999" stroke-width="0.3"/>
<line x1="636.1" y1="161.3" x2="663.9" y2="161.3" stroke="#333" stroke-width="0.7" />
<text x="635.6" y="170.6" font-size="9.5" text-anchor="start" fill="#000" >∑</text>
<rect x="643.3" y="163.8" width="6.3" height="6.6" fill="#22b8b8" stroke="#999" stroke-width="0.3"/>
<text x="653.1" y="169.6" font-size="6.5" text-anchor="middle" fill="#111" >+</text>
<rect x="657.1" y="163.8" width="7.1" height="6.6" fill="#e4e4e4" stroke="#999" stroke-width="0.5"/>
<text x="666.5" y="163.7" font-size="7.7" text-anchor="start" fill="#111" >x100</text>
<text x="-0.8" y="248.7" font-size="9.8" text-anchor="start" fill="#111" >B</text>
<defs>
<filter id="speck1" x="0" y="0" width="100%" height="100%"><feTurbulence type="fractalNoise" baseFrequency="0.55" numOctaves="2" seed="5" result="t"/><feColorMatrix in="t" type="matrix" values="0 0 0 0 0  0 0 0 0 0  0 0 0 0 0  6 0 0 0 -2.9" result="a"/><feComposite in="SourceGraphic" in2="a" operator="in"/></filter>
<filter id="speck2" x="0" y="0" width="100%" height="100%"><feTurbulence type="fractalNoise" baseFrequency="0.7" numOctaves="1" seed="9" result="t"/><feColorMatrix in="t" type="matrix" values="0 0 0 0 0  0 0 0 0 0  0 0 0 0 0  7 0 0 0 -3.9" result="a"/><feComposite in="SourceGraphic" in2="a" operator="in"/></filter>
<filter id="speckc" x="0" y="0" width="100%" height="100%"><feTurbulence type="fractalNoise" baseFrequency="0.45" numOctaves="2" seed="12" result="t"/><feColorMatrix in="t" type="matrix" values="0 0 0 0 0  0 0 0 0 0  0 0 0 0 0  6 0 0 0 -3.05" result="a"/><feComposite in="SourceGraphic" in2="a" operator="in"/></filter>
<filter id="speck3" x="0" y="0" width="100%" height="100%"><feTurbulence type="fractalNoise" baseFrequency="0.35" numOctaves="2" seed="2" result="t"/><feColorMatrix in="t" type="matrix" values="0 0 0 0 0  0 0 0 0 0  0 0 0 0 0  5 0 0 0 -2.4" result="a"/><feComposite in="SourceGraphic" in2="a" operator="in"/></filter>
</defs>
<rect x="23.5" y="249.1" width="106.7" height="63.4" fill="#1d2121"/>
<g id="slide1"><polygon points="26.2,250.8 85.3,253.5 116.1,252.4 119.5,265.4 123.9,292.2 111.3,295.3 92.4,300 70.3,302.4 45.1,308.7 43.5,292.2 26.2,289" fill="#2e3a38"/><polygon points="26.2,250.8 85.3,253.5 116.1,252.4 119.5,265.4 123.9,292.2 111.3,295.3 92.4,300 70.3,302.4 45.1,308.7 43.5,292.2 26.2,289" fill="#56706a" opacity="0.35" filter="url(#speck3)"/><polygon points="88,258 118,256 122,290 95,296" fill="#4a7050" opacity="0.35" filter="url(#fblur)"/><polygon points="44,292 70,290 92,296 70,302 45,308" fill="#222a28" opacity="0.6" filter="url(#fblur1)"/><circle cx="67" cy="260.4" r="7.3" fill="#40c0b0"/><circle cx="80.1" cy="261" r="7.0" fill="#40c0b0"/><circle cx="56.9" cy="269.4" r="10.6" fill="#40c0b0"/><circle cx="76.2" cy="271.9" r="8.2" fill="#40c0b0"/><circle cx="49.9" cy="284.5" r="4.3" fill="#40c0b0"/><circle cx="60.3" cy="282" r="7.3" fill="#40c0b0"/><circle cx="72" cy="283.3" r="8.6" fill="#40c0b0"/><circle cx="82.1" cy="271.9" r="4.0" fill="#40c0b0"/><circle cx="67" cy="270" r="7.6" fill="#40c0b0"/><circle cx="67" cy="260.4" r="6.7" fill="#389a46"/><circle cx="80.1" cy="261" r="6.4" fill="#389a46"/><circle cx="56.9" cy="269.4" r="10" fill="#389a46"/><circle cx="76.2" cy="271.9" r="7.6" fill="#389a46"/><circle cx="49.9" cy="284.5" r="3.7" fill="#389a46"/><circle cx="60.3" cy="282" r="6.7" fill="#389a46"/><circle cx="72" cy="283.3" r="8" fill="#389a46"/><circle cx="82.1" cy="271.9" r="3.4" fill="#389a46"/><circle cx="67" cy="270" r="7" fill="#389a46"/><g opacity="0.3" filter="url(#speck1)"><circle cx="67" cy="260.4" r="6.7" fill="#68c870"/><circle cx="80.1" cy="261" r="6.4" fill="#68c870"/><circle cx="56.9" cy="269.4" r="10" fill="#68c870"/><circle cx="76.2" cy="271.9" r="7.6" fill="#68c870"/><circle cx="49.9" cy="284.5" r="3.7" fill="#68c870"/><circle cx="60.3" cy="282" r="6.7" fill="#68c870"/><circle cx="72" cy="283.3" r="8" fill="#68c870"/><circle cx="82.1" cy="271.9" r="3.4" fill="#68c870"/><circle cx="67" cy="270" r="7" fill="#68c870"/></g><ellipse cx="39" cy="255.5" rx="2" ry="3.8" transform="rotate(10 39 255.5)" fill="#3cc8c0"/><ellipse cx="45.3" cy="258" rx="3.3" ry="5.5" transform="rotate(-15 45.3 258)" fill="#40b8a8"/><ellipse cx="40" cy="301" rx="1" ry="1.8" transform="rotate(0 40 301)" fill="#60e0e0"/><ellipse cx="92" cy="266.6" rx="2.3" ry="3.8" fill="#1a1a18"/><ellipse cx="94" cy="276.8" rx="2" ry="2.6" fill="#262220"/><ellipse cx="87.9" cy="277.8" rx="1.5" ry="1.5" fill="#b0b8b0"/></g>
<polygon points="23.9,315.3 130.2,316.2 130.2,379.3 24.1,378.3" fill="#fff" stroke="#111" stroke-width="0.9"/>
<polygon points="29.3,317.2 40.3,318 86,320.3 116,321.1 119.2,334.5 123.1,361.3 101.8,366 78.2,370.8 45.1,377.1 43.5,361.3 32.5,353.4 29.3,337.6" fill="#f4eae7"/>
<polygon points="29.3,317.2 40.3,318 86,320.3 116,321.1 119.2,334.5 123.1,361.3 101.8,366 78.2,370.8 45.1,377.1 43.5,361.3 32.5,353.4 29.3,337.6" fill="#d0c0c8" opacity="0.35" filter="url(#speck3)"/>
<circle cx="67.8" cy="325.2" r="7.5" fill="#b8b0cc"/>
<circle cx="81.8" cy="328.9" r="7.2" fill="#b8b0cc"/>
<circle cx="56.9" cy="335.6" r="8.4" fill="#b8b0cc"/>
<circle cx="68.7" cy="335.6" r="7.5" fill="#b8b0cc"/>
<circle cx="79.6" cy="338.2" r="5.8" fill="#b8b0cc"/>
<circle cx="72" cy="348.2" r="9.200000000000001" fill="#b8b0cc"/>
<circle cx="58.6" cy="347.4" r="5.8" fill="#b8b0cc"/>
<circle cx="45.2" cy="326.4" r="5.0" fill="#b8b0cc"/>
<circle cx="48.9" cy="351.6" r="5.5" fill="#b8b0cc"/>
<circle cx="50.2" cy="338.2" r="4.2" fill="#b8b0cc"/>
<circle cx="62" cy="330" r="5.8" fill="#b8b0cc"/>
<circle cx="67.8" cy="325.2" r="6.7" fill="#ab9294"/>
<circle cx="81.8" cy="328.9" r="6.4" fill="#ab9294"/>
<circle cx="56.9" cy="335.6" r="7.6" fill="#ab9294"/>
<circle cx="68.7" cy="335.6" r="6.7" fill="#ab9294"/>
<circle cx="79.6" cy="338.2" r="5" fill="#ab9294"/>
<circle cx="72" cy="348.2" r="8.4" fill="#ab9294"/>
<circle cx="58.6" cy="347.4" r="5" fill="#ab9294"/>
<circle cx="45.2" cy="326.4" r="4.2" fill="#ab9294"/>
<circle cx="48.9" cy="351.6" r="4.7" fill="#ab9294"/>
<circle cx="50.2" cy="338.2" r="3.4" fill="#ab9294"/>
<circle cx="62" cy="330" r="5" fill="#ab9294"/>
<g opacity="0.4" filter="url(#speck2)"><circle cx="67.8" cy="325.2" r="6.7" fill="#c8a8a0"/><circle cx="81.8" cy="328.9" r="6.4" fill="#c8a8a0"/><circle cx="56.9" cy="335.6" r="7.6" fill="#c8a8a0"/><circle cx="68.7" cy="335.6" r="6.7" fill="#c8a8a0"/><circle cx="79.6" cy="338.2" r="5" fill="#c8a8a0"/><circle cx="72" cy="348.2" r="8.4" fill="#c8a8a0"/><circle cx="58.6" cy="347.4" r="5" fill="#c8a8a0"/><circle cx="45.2" cy="326.4" r="4.2" fill="#c8a8a0"/><circle cx="48.9" cy="351.6" r="4.7" fill="#c8a8a0"/><circle cx="50.2" cy="338.2" r="3.4" fill="#c8a8a0"/><circle cx="62" cy="330" r="5" fill="#c8a8a0"/></g>
<ellipse cx="51.4" cy="321.1" rx="2.2" ry="1.5" fill="none" stroke="#e8d020" stroke-width="0.7"/>
<ellipse cx="53" cy="331.3" rx="1.8" ry="2.3" fill="none" stroke="#e8d020" stroke-width="0.7"/>
<ellipse cx="48.2" cy="339.2" rx="1.6" ry="2.8" fill="none" stroke="#e8d020" stroke-width="0.7"/>
<ellipse cx="49" cy="351.4" rx="3.8" ry="3.1" fill="none" stroke="#e8d020" stroke-width="0.7"/>
<ellipse cx="45.1" cy="325.8" rx="1.6" ry="1.8" fill="none" stroke="#e03030" stroke-width="0.7"/>
<ellipse cx="60.8" cy="333" rx="2" ry="2.3" fill="none" stroke="#e03030" stroke-width="0.7"/>
<ellipse cx="68.7" cy="337.3" rx="1.8" ry="1.8" fill="none" stroke="#e03030" stroke-width="0.7"/>
<ellipse cx="58.5" cy="337.6" rx="0.8" ry="0.8" fill="none" stroke="#e03030" stroke-width="0.7"/>
<ellipse cx="63.5" cy="339.6" rx="1.4" ry="1.4" fill="none" stroke="#e03030" stroke-width="0.7"/>
<ellipse cx="69.5" cy="324.2" rx="2" ry="2.5" fill="none" stroke="#30c030" stroke-width="0.7"/>
<ellipse cx="79.8" cy="323.5" rx="2.5" ry="1.2" fill="none" stroke="#30c030" stroke-width="0.7"/>
<ellipse cx="74.2" cy="325.4" rx="1.5" ry="1.8" fill="none" stroke="#30c030" stroke-width="0.7"/>
<text x="139.9" y="266.7" font-size="7.7" text-anchor="start" fill="#111" >3 step registration in WARPY</text>
<rect x="137.2" y="270.5" width="106.7" height="21.6" fill="#fff" stroke="#666" stroke-width="0.8"/>
<text x="190.5" y="282.6" font-size="7.7" text-anchor="middle" fill="#111" >Manual rigid registration</text>
<rect x="137.2" y="308.5" width="106.7" height="21.6" fill="#fff" stroke="#666" stroke-width="0.8"/>
<text x="190.5" y="320.6" font-size="7.7" text-anchor="middle" fill="#111" >Automated affine registration</text>
<rect x="137.2" y="345.8" width="106.7" height="21.9" fill="#fff" stroke="#888" stroke-width="0.8"/>
<text x="190.5" y="353.6" font-size="7.7" text-anchor="middle" fill="#111" >Block wise affine</text>
<text x="190.5" y="362.4" font-size="7.7" text-anchor="middle" fill="#111" >transformation and B-splines</text>
<line x1="190.4" y1="292.2" x2="190.4" y2="305.5" stroke="#444" stroke-width="0.6" />
<path d="M190.4,307.5 L189.1,304.5 L191.7,304.5 Z" fill="#444"/>
<line x1="190.4" y1="330.2" x2="190.4" y2="343.0" stroke="#444" stroke-width="0.6" />
<path d="M190.4,345.0 L189.1,342.0 L191.7,342.0 Z" fill="#444"/>
<line x1="244.3" y1="314.2" x2="266.3" y2="314.2" stroke="#444" stroke-width="0.7" />
<path d="M269.3,314.2 L265.3,312.6 L265.3,315.8 Z" fill="#444"/>
<rect x="271.1" y="269.3" width="149.1" height="90" fill="#050706"/>
<use href="#slide1" transform="translate(271.1,269.3) scale(1.397,1.42) translate(-23.5,-249.1)"/>
<ellipse cx="308.8" cy="276.9" rx="2.4" ry="1.6" fill="none" stroke="#e8d020" stroke-width="0.8"/>
<ellipse cx="310.6" cy="290.6" rx="2.2" ry="3.2" fill="none" stroke="#e8d020" stroke-width="0.8"/>
<ellipse cx="302.8" cy="302.4" rx="2.5" ry="3.6" fill="none" stroke="#e8d020" stroke-width="0.8"/>
<ellipse cx="304.8" cy="320.1" rx="4.8" ry="4.3" fill="none" stroke="#e8d020" stroke-width="0.8"/>
<ellipse cx="321.0" cy="294.2" rx="2.3" ry="2.6" fill="none" stroke="#d04020" stroke-width="0.8"/>
<ellipse cx="317.7" cy="300.8" rx="1.3" ry="1.3" fill="none" stroke="#d04020" stroke-width="0.8"/>
<ellipse cx="325.5" cy="299.7" rx="1.6" ry="1.6" fill="none" stroke="#d04020" stroke-width="0.8"/>
<ellipse cx="331.7" cy="300.8" rx="2" ry="2.7" fill="none" stroke="#d04020" stroke-width="0.8"/>
<ellipse cx="298.8" cy="283.5" rx="1.4" ry="1.4" fill="none" stroke="#d04020" stroke-width="0.8"/>
<ellipse cx="334.3" cy="282.4" rx="1.8" ry="2.8" fill="none" stroke="#30d030" stroke-width="0.8"/>
<ellipse cx="346.5" cy="281.3" rx="1.8" ry="1.8" fill="none" stroke="#30d030" stroke-width="0.8"/>
<ellipse cx="358.8" cy="289.1" rx="1.8" ry="1.8" fill="none" stroke="#30d030" stroke-width="0.8"/>
<defs>
<clipPath id="roiclip"><circle cx="0" cy="0" r="48"/></clipPath>
<filter id="tumorF" x="-50" y="-50" width="100" height="100" filterUnits="userSpaceOnUse" color-interpolation-filters="sRGB">
<feTurbulence type="fractalNoise" baseFrequency="0.1" numOctaves="3" seed="4" result="n"/>
<feColorMatrix in="n" type="matrix" values="0 0 0 0 0  0 0 0 0 0  0 0 0 0 0  1 0 0 0 0" result="na"/>
<feGaussianBlur in="SourceAlpha" stdDeviation="4" result="ma"/>
<feComposite in="na" in2="ma" operator="arithmetic" k1="0" k2="0.5" k3="0.3" k4="0" result="sum"/>
<feComponentTransfer in="sum" result="mm"><feFuncA type="linear" slope="22" intercept="-10.95"/></feComponentTransfer>
<feFlood flood-color="#1f8c20" result="gcol"/>
<feComposite in="gcol" in2="mm" operator="in" result="green"/>
<feFlood flood-color="#0b240e" result="dcol"/>
<feComposite in="dcol" in2="mm" operator="in" result="dark0"/>
<feOffset in="dark0" dx="0.9" dy="1.0" result="dark"/>
<feMerge><feMergeNode in="dark"/><feMergeNode in="green"/></feMerge>
</filter>
<filter id="patchF" x="-50" y="-50" width="100" height="100" filterUnits="userSpaceOnUse" color-interpolation-filters="sRGB">
<feTurbulence type="fractalNoise" baseFrequency="0.11" numOctaves="2" seed="8" result="n"/>
<feColorMatrix in="n" type="matrix" values="0 0 0 0 0  0 0 0 0 0  0 0 0 0 0  10 0 0 0 -5.6" result="m"/>
<feComposite in="SourceGraphic" in2="m" operator="in"/>
</filter>
<g id="roicontent" clip-path="url(#roiclip)">
<rect x="-48" y="-48" width="96" height="96" fill="#2a9a2e"/>
<rect x="-48" y="-48" width="96" height="96" fill="#3fdfe6" filter="url(#speckc)"/>
<rect x="-48" y="-48" width="96" height="96" fill="#2a9a2e" opacity="0.7" filter="url(#patchF)"/>
<rect x="-48" y="-48" width="96" height="96" fill="#a060b0" opacity="0.85" filter="url(#speck2)"/>
<polygon points="-23.5,-30.7 -13.0,-35.0 -5.8,-43.7 3.4,-45.6 12.0,-40.8 21.1,-37.9 28.8,-32.2 33.1,-23.0 30.2,-12.5 24.0,-5.3 21.1,3.8 15.4,8.2 9.1,9.6 6.2,18.7 -1.0,21.6 -8.6,17.3 -16.3,9.6 -20.6,0.5 -22.1,-11.0" fill="#48dde4" opacity="0.55" filter="url(#fblur1)"/>
<polygon points="-23.5,-30.7 -13.0,-35.0 -5.8,-43.7 3.4,-45.6 12.0,-40.8 21.1,-37.9 28.8,-32.2 33.1,-23.0 30.2,-12.5 24.0,-5.3 21.1,3.8 15.4,8.2 9.1,9.6 6.2,18.7 -1.0,21.6 -8.6,17.3 -16.3,9.6 -20.6,0.5 -22.1,-11.0" fill="#000" filter="url(#tumorF)"/>
</g>
</defs>
<use href="#roicontent" transform="translate(508.3,319.9) scale(1.0000)"/>
<path d="M498.2,298.3 L509.3,297.3 L517.4,303.6 L521.7,313.2 L521.7,322.8 L517.4,329.5 L515.5,338.6 L508.8,343.9 L499.7,341.5 L492.5,332.4 L488.6,323.7 L488.1,310.3 L491.5,302.1 Z" fill="none" stroke="#d82020" stroke-width="1.1" stroke-linejoin="round"/>
<use href="#roicontent" transform="translate(619,320.2) scale(0.9896)"/>
<path d="M609.0,298.8 L620.0,297.9 L628.0,304.1 L632.3,313.6 L632.3,323.1 L628.0,329.7 L626.1,338.7 L619.5,343.9 L610.5,341.6 L603.3,332.6 L599.5,324.0 L599.0,310.7 L602.4,302.6 Z" fill="none" stroke="#d82020" stroke-width="1.1" stroke-linejoin="round"/>
<path d="M602.4,279.3 L621.4,276.0 L640.4,280.3 L654.6,294.1 L661.8,315.4 L659.9,336.8 L650.4,354.4 L633.2,364.4 L613.3,365.3 L595.2,357.2 L581.0,340.1 L576.2,320.2 L583.4,296.4 Z" fill="none" stroke="#d82020" stroke-width="1.1" stroke-linejoin="round"/>
<line x1="334.5" y1="297.0" x2="500.0" y2="297.3" stroke="#111" stroke-width="0.9" stroke-dasharray="3.2,2.2"/>
<line x1="334.5" y1="304.5" x2="503.0" y2="348.5" stroke="#111" stroke-width="0.9" stroke-dasharray="3.2,2.2"/>
<rect x="461" y="365.6" width="9" height="1.4" fill="#111"/>
<rect x="571" y="364.9" width="9" height="1.4" fill="#111"/>
<text x="508.0" y="268.9" font-size="7.6" text-anchor="middle" fill="#111" >P-ROI</text>
<text x="618.7" y="269.2" font-size="7.6" text-anchor="middle" fill="#111" >Ring</text>
<text x="27.6" y="397.9" font-size="7.7" text-anchor="start" fill="#111" >Whole slide registration of fluorescent slides with H-DAB Slides</text>
<text x="298.2" y="397.5" font-size="7.7" text-anchor="start" fill="#111" >Transfer of proteomics ROI</text>
<text x="523.1" y="397.5" font-size="7.7" text-anchor="start" fill="#111" >Expand proteomics ROI</text>
<rect x="72.4" y="439.1" width="544.2" height="23.3" rx="11.65" fill="#faeeee"/>
<text x="344.8" y="454.1" font-size="10.2" text-anchor="middle" fill="#111" >Whole slide Level</text>
<path d="M37.7,484.6 L37.7,610 L157.7,610" fill="none" stroke="#2a2a2a" stroke-width="0.85"/>
<line x1="36.4" y1="603.8" x2="37.7" y2="603.8" stroke="#333" stroke-width="0.6" />
<text x="35.5" y="606.4" font-size="7.3" text-anchor="end" fill="#222" >0</text>
<line x1="36.4" y1="580.1" x2="37.7" y2="580.1" stroke="#333" stroke-width="0.6" />
<text x="35.5" y="582.7" font-size="7.3" text-anchor="end" fill="#222" >10</text>
<line x1="36.4" y1="556.4" x2="37.7" y2="556.4" stroke="#333" stroke-width="0.6" />
<text x="35.5" y="559.0" font-size="7.3" text-anchor="end" fill="#222" >20</text>
<line x1="36.4" y1="532.0" x2="37.7" y2="532.0" stroke="#333" stroke-width="0.6" />
<text x="35.5" y="534.6" font-size="7.3" text-anchor="end" fill="#222" >30</text>
<line x1="36.4" y1="507.7" x2="37.7" y2="507.7" stroke="#333" stroke-width="0.6" />
<text x="35.5" y="510.3" font-size="7.3" text-anchor="end" fill="#222" >40</text>
<path d="M200.3,485.4 L200.3,609.7 L321.1,609.7" fill="none" stroke="#2a2a2a" stroke-width="0.85"/>
<line x1="199.0" y1="605.0" x2="200.3" y2="605.0" stroke="#333" stroke-width="0.6" />
<text x="198.3" y="607.6" font-size="7.3" text-anchor="end" fill="#222" >0</text>
<line x1="199.0" y1="577.2" x2="200.3" y2="577.2" stroke="#333" stroke-width="0.6" />
<text x="198.3" y="579.8" font-size="7.3" text-anchor="end" fill="#222" >5</text>
<line x1="199.0" y1="550.4" x2="200.3" y2="550.4" stroke="#333" stroke-width="0.6" />
<text x="198.3" y="553.0" font-size="7.3" text-anchor="end" fill="#222" >10</text>
<line x1="199.0" y1="523.1" x2="200.3" y2="523.1" stroke="#333" stroke-width="0.6" />
<text x="198.3" y="525.7" font-size="7.3" text-anchor="end" fill="#222" >15</text>
<line x1="199.0" y1="495.9" x2="200.3" y2="495.9" stroke="#333" stroke-width="0.6" />
<text x="198.3" y="498.5" font-size="7.3" text-anchor="end" fill="#222" >20</text>
<path d="M358.1,483.2 L358.1,608.6 L479.3,608.6" fill="none" stroke="#2a2a2a" stroke-width="0.85"/>
<line x1="356.8" y1="603.2" x2="358.1" y2="603.2" stroke="#333" stroke-width="0.6" />
<text x="356.6" y="605.8" font-size="7.3" text-anchor="end" fill="#222" >0</text>
<line x1="356.8" y1="569.4" x2="358.1" y2="569.4" stroke="#333" stroke-width="0.6" />
<text x="356.6" y="572.0" font-size="7.3" text-anchor="end" fill="#222" >20</text>
<line x1="356.8" y1="536.7" x2="358.1" y2="536.7" stroke="#333" stroke-width="0.6" />
<text x="356.6" y="539.3" font-size="7.3" text-anchor="end" fill="#222" >40</text>
<line x1="356.8" y1="503.4" x2="358.1" y2="503.4" stroke="#333" stroke-width="0.6" />
<text x="356.6" y="506.0" font-size="7.3" text-anchor="end" fill="#222" >60</text>
<path d="M507.4,484.9 L507.4,609.0 L628,609.0" fill="none" stroke="#2a2a2a" stroke-width="0.85"/>
<line x1="506.1" y1="589.3" x2="507.4" y2="589.3" stroke="#333" stroke-width="0.6" />
<text x="505.9" y="591.9" font-size="7.3" text-anchor="end" fill="#222" >1</text>
<line x1="506.1" y1="566.5" x2="507.4" y2="566.5" stroke="#333" stroke-width="0.6" />
<text x="505.9" y="569.1" font-size="7.3" text-anchor="end" fill="#222" >2</text>
<line x1="506.1" y1="543.8" x2="507.4" y2="543.8" stroke="#333" stroke-width="0.6" />
<text x="505.9" y="546.4" font-size="7.3" text-anchor="end" fill="#222" >3</text>
<line x1="506.1" y1="521.0" x2="507.4" y2="521.0" stroke="#333" stroke-width="0.6" />
<text x="505.9" y="523.6" font-size="7.3" text-anchor="end" fill="#222" >4</text>
<line x1="506.1" y1="498.6" x2="507.4" y2="498.6" stroke="#333" stroke-width="0.6" />
<text x="505.9" y="501.2" font-size="7.3" text-anchor="end" fill="#222" >5</text>
<circle cx="39.7" cy="581.8" r="2.3" fill="#74c476" fill-opacity="0.62"/>
<circle cx="41.5" cy="585.7" r="2.3" fill="#74c476" fill-opacity="0.62"/>
<circle cx="44.1" cy="574.2" r="2.3" fill="#74c476" fill-opacity="0.62"/>
<circle cx="46.9" cy="571.2" r="2.3" fill="#74c476" fill-opacity="0.62"/>
<circle cx="49.2" cy="594.5" r="2.3" fill="#1b9e77" fill-opacity="0.62"/>
<circle cx="51.9" cy="593.6" r="2.3" fill="#1b9e77" fill-opacity="0.62"/>
<circle cx="54.6" cy="600.4" r="2.3" fill="#1b9e77" fill-opacity="0.62"/>
<circle cx="57.3" cy="595.9" r="2.3" fill="#a6761d" fill-opacity="0.62"/>
<circle cx="60.1" cy="601.3" r="2.3" fill="#a6761d" fill-opacity="0.62"/>
<circle cx="62.6" cy="590.5" r="2.3" fill="#a6761d" fill-opacity="0.62"/>
<circle cx="65.2" cy="601" r="2.3" fill="#a6761d" fill-opacity="0.62"/>
<circle cx="67.8" cy="594.3" r="2.3" fill="#e3d3b4" fill-opacity="0.62"/>
<circle cx="70.5" cy="596" r="2.3" fill="#e3d3b4" fill-opacity="0.62"/>
<circle cx="73.2" cy="582.9" r="2.3" fill="#e3d3b4" fill-opacity="0.62"/>
<circle cx="75.6" cy="591.2" r="2.3" fill="#e3d3b4" fill-opacity="0.62"/>
<circle cx="78.3" cy="590.2" r="2.3" fill="#e3d3b4" fill-opacity="0.62"/>
<circle cx="81" cy="585.9" r="2.3" fill="#e3d3b4" fill-opacity="0.62"/>
<circle cx="83.5" cy="579.1" r="2.3" fill="#a6cee3" fill-opacity="0.62"/>
<circle cx="86.2" cy="601.3" r="2.3" fill="#a6cee3" fill-opacity="0.62"/>
<circle cx="88.9" cy="579" r="2.3" fill="#a6cee3" fill-opacity="0.62"/>
<circle cx="91.6" cy="580.5" r="2.3" fill="#a6cee3" fill-opacity="0.62"/>
<circle cx="93.9" cy="587.8" r="2.3" fill="#a6cee3" fill-opacity="0.62"/>
<circle cx="96.6" cy="587.5" r="2.3" fill="#1f9ee0" fill-opacity="0.62"/>
<circle cx="98.9" cy="557" r="2.3" fill="#1f9ee0" fill-opacity="0.62"/>
<circle cx="101.8" cy="576" r="2.3" fill="#1f9ee0" fill-opacity="0.62"/>
<circle cx="104.5" cy="559" r="2.3" fill="#6a3d9a" fill-opacity="0.62"/>
<circle cx="107.2" cy="547.1" r="2.3" fill="#6a3d9a" fill-opacity="0.62"/>
<circle cx="109.6" cy="559" r="2.3" fill="#6a3d9a" fill-opacity="0.62"/>
<circle cx="112.3" cy="558.8" r="2.3" fill="#6a3d9a" fill-opacity="0.62"/>
<circle cx="115" cy="556.1" r="2.3" fill="#6a3d9a" fill-opacity="0.62"/>
<circle cx="117.7" cy="555.9" r="2.3" fill="#6a3d9a" fill-opacity="0.62"/>
<circle cx="120.3" cy="528.2" r="2.3" fill="#6a3d9a" fill-opacity="0.62"/>
<circle cx="122.9" cy="501.5" r="2.3" fill="#fdb462" fill-opacity="0.62"/>
<circle cx="125.6" cy="546.1" r="2.3" fill="#fdb462" fill-opacity="0.62"/>
<circle cx="128.2" cy="537" r="2.3" fill="#fdb462" fill-opacity="0.62"/>
<circle cx="130.7" cy="565.8" r="2.3" fill="#cab2d6" fill-opacity="0.62"/>
<circle cx="133.5" cy="558.6" r="2.3" fill="#cab2d6" fill-opacity="0.62"/>
<circle cx="136" cy="548.8" r="2.3" fill="#cab2d6" fill-opacity="0.62"/>
<circle cx="138.6" cy="566.5" r="2.3" fill="#cab2d6" fill-opacity="0.62"/>
<circle cx="141.3" cy="544.4" r="2.3" fill="#cab2d6" fill-opacity="0.62"/>
<circle cx="144" cy="555.1" r="2.3" fill="#c7e9c0" fill-opacity="0.62"/>
<circle cx="146.5" cy="567.6" r="2.3" fill="#c7e9c0" fill-opacity="0.62"/>
<circle cx="149.2" cy="553.6" r="2.3" fill="#c7e9c0" fill-opacity="0.62"/>
<circle cx="151.9" cy="581.4" r="2.3" fill="#fdd0a2" fill-opacity="0.62"/>
<circle cx="154.6" cy="571.2" r="2.3" fill="#fdd0a2" fill-opacity="0.62"/>
<circle cx="157" cy="579.1" r="2.3" fill="#fdd0a2" fill-opacity="0.62"/>
<circle cx="202.5" cy="576.7" r="2.3" fill="#74c476" fill-opacity="0.62"/>
<circle cx="204.2" cy="570.5" r="2.3" fill="#74c476" fill-opacity="0.62"/>
<circle cx="206.9" cy="567.6" r="2.3" fill="#74c476" fill-opacity="0.62"/>
<circle cx="209.6" cy="560.3" r="2.3" fill="#74c476" fill-opacity="0.62"/>
<circle cx="212.1" cy="572" r="2.3" fill="#1b9e77" fill-opacity="0.62"/>
<circle cx="214.7" cy="578" r="2.3" fill="#1b9e77" fill-opacity="0.62"/>
<circle cx="217.4" cy="578.8" r="2.3" fill="#1b9e77" fill-opacity="0.62"/>
<circle cx="219.9" cy="602.3" r="2.3" fill="#a6761d" fill-opacity="0.62"/>
<circle cx="222.6" cy="598.7" r="2.3" fill="#a6761d" fill-opacity="0.62"/>
<circle cx="225.2" cy="596" r="2.3" fill="#a6761d" fill-opacity="0.62"/>
<circle cx="227.9" cy="589.8" r="2.3" fill="#a6761d" fill-opacity="0.62"/>
<circle cx="230.5" cy="566.6" r="2.3" fill="#e3d3b4" fill-opacity="0.62"/>
<circle cx="233.2" cy="570.6" r="2.3" fill="#e3d3b4" fill-opacity="0.62"/>
<circle cx="235.8" cy="560.1" r="2.3" fill="#e3d3b4" fill-opacity="0.62"/>
<circle cx="238.5" cy="558.9" r="2.3" fill="#e3d3b4" fill-opacity="0.62"/>
<circle cx="241" cy="555.6" r="2.3" fill="#e3d3b4" fill-opacity="0.62"/>
<circle cx="243.6" cy="551.9" r="2.3" fill="#e3d3b4" fill-opacity="0.62"/>
<circle cx="246.1" cy="566.5" r="2.3" fill="#a6cee3" fill-opacity="0.62"/>
<circle cx="248.7" cy="582" r="2.3" fill="#a6cee3" fill-opacity="0.62"/>
<circle cx="251.3" cy="561.1" r="2.3" fill="#a6cee3" fill-opacity="0.62"/>
<circle cx="254.1" cy="567.4" r="2.3" fill="#a6cee3" fill-opacity="0.62"/>
<circle cx="256.7" cy="579.1" r="2.3" fill="#a6cee3" fill-opacity="0.62"/>
<circle cx="259.2" cy="551.6" r="2.3" fill="#1f9ee0" fill-opacity="0.62"/>
<circle cx="261.9" cy="562.9" r="2.3" fill="#1f9ee0" fill-opacity="0.62"/>
<circle cx="264.6" cy="555" r="2.3" fill="#1f9ee0" fill-opacity="0.62"/>
<circle cx="267.3" cy="520.5" r="2.3" fill="#6a3d9a" fill-opacity="0.62"/>
<circle cx="269.9" cy="526.8" r="2.3" fill="#6a3d9a" fill-opacity="0.62"/>
<circle cx="272.4" cy="523.3" r="2.3" fill="#6a3d9a" fill-opacity="0.62"/>
<circle cx="275" cy="533" r="2.3" fill="#6a3d9a" fill-opacity="0.62"/>
<circle cx="277.8" cy="504.4" r="2.3" fill="#6a3d9a" fill-opacity="0.62"/>
<circle cx="280.4" cy="526.8" r="2.3" fill="#6a3d9a" fill-opacity="0.62"/>
<circle cx="282.9" cy="531.4" r="2.3" fill="#6a3d9a" fill-opacity="0.62"/>
<circle cx="285.5" cy="588.4" r="2.3" fill="#fdb462" fill-opacity="0.62"/>
<circle cx="288.2" cy="577.2" r="2.3" fill="#fdb462" fill-opacity="0.62"/>
<circle cx="290.8" cy="574.3" r="2.3" fill="#fdb462" fill-opacity="0.62"/>
<circle cx="293.4" cy="540.4" r="2.3" fill="#cab2d6" fill-opacity="0.62"/>
<circle cx="296.1" cy="564.8" r="2.3" fill="#cab2d6" fill-opacity="0.62"/>
<circle cx="298.8" cy="555.4" r="2.3" fill="#cab2d6" fill-opacity="0.62"/>
<circle cx="301.4" cy="563.3" r="2.3" fill="#cab2d6" fill-opacity="0.62"/>
<circle cx="304" cy="555.4" r="2.3" fill="#cab2d6" fill-opacity="0.62"/>
<circle cx="306.8" cy="583" r="2.3" fill="#c7e9c0" fill-opacity="0.62"/>
<circle cx="309.3" cy="556" r="2.3" fill="#c7e9c0" fill-opacity="0.62"/>
<circle cx="311.9" cy="568" r="2.3" fill="#c7e9c0" fill-opacity="0.62"/>
<circle cx="314.6" cy="558.2" r="2.3" fill="#fdd0a2" fill-opacity="0.62"/>
<circle cx="317.2" cy="543.6" r="2.3" fill="#fdd0a2" fill-opacity="0.62"/>
<circle cx="319.7" cy="564.5" r="2.3" fill="#fdd0a2" fill-opacity="0.62"/>
<circle cx="360.1" cy="568.4" r="2.3" fill="#74c476" fill-opacity="0.62"/>
<circle cx="362.6" cy="568.4" r="2.3" fill="#74c476" fill-opacity="0.62"/>
<circle cx="365.2" cy="532.6" r="2.3" fill="#74c476" fill-opacity="0.62"/>
<circle cx="367.9" cy="554.2" r="2.3" fill="#74c476" fill-opacity="0.62"/>
<circle cx="370.3" cy="539.5" r="2.3" fill="#1b9e77" fill-opacity="0.62"/>
<circle cx="372.8" cy="515.4" r="2.3" fill="#1b9e77" fill-opacity="0.62"/>
<circle cx="375.5" cy="549.9" r="2.3" fill="#1b9e77" fill-opacity="0.62"/>
<circle cx="377.9" cy="573.2" r="2.3" fill="#a6761d" fill-opacity="0.62"/>
<circle cx="380.6" cy="517.6" r="2.3" fill="#a6761d" fill-opacity="0.62"/>
<circle cx="383.2" cy="521.2" r="2.3" fill="#a6761d" fill-opacity="0.62"/>
<circle cx="385.7" cy="543.6" r="2.3" fill="#a6761d" fill-opacity="0.62"/>
<circle cx="388.3" cy="555.6" r="2.3" fill="#e3d3b4" fill-opacity="0.62"/>
<circle cx="390.8" cy="546.9" r="2.3" fill="#e3d3b4" fill-opacity="0.62"/>
<circle cx="393.3" cy="504.8" r="2.3" fill="#e3d3b4" fill-opacity="0.62"/>
<circle cx="395.9" cy="500.5" r="2.3" fill="#e3d3b4" fill-opacity="0.62"/>
<circle cx="398.5" cy="543.9" r="2.3" fill="#e3d3b4" fill-opacity="0.62"/>
<circle cx="401" cy="496.4" r="2.3" fill="#e3d3b4" fill-opacity="0.62"/>
<circle cx="403.7" cy="514.6" r="2.3" fill="#a6cee3" fill-opacity="0.62"/>
<circle cx="406.1" cy="523.1" r="2.3" fill="#a6cee3" fill-opacity="0.62"/>
<circle cx="408.8" cy="495.1" r="2.3" fill="#a6cee3" fill-opacity="0.62"/>
<circle cx="411.3" cy="499.7" r="2.3" fill="#a6cee3" fill-opacity="0.62"/>
<circle cx="413.9" cy="519.7" r="2.3" fill="#a6cee3" fill-opacity="0.62"/>
<circle cx="416.4" cy="523.1" r="2.3" fill="#a6cee3" fill-opacity="0.62"/>
<circle cx="418.9" cy="586.2" r="2.3" fill="#1f9ee0" fill-opacity="0.62"/>
<circle cx="421.6" cy="583" r="2.3" fill="#1f9ee0" fill-opacity="0.62"/>
<circle cx="424.1" cy="591.8" r="2.3" fill="#1f9ee0" fill-opacity="0.62"/>
<circle cx="426.7" cy="599.1" r="2.3" fill="#6a3d9a" fill-opacity="0.62"/>
<circle cx="429.2" cy="587.1" r="2.3" fill="#6a3d9a" fill-opacity="0.62"/>
<circle cx="431.8" cy="592.1" r="2.3" fill="#6a3d9a" fill-opacity="0.62"/>
<circle cx="434.3" cy="591.5" r="2.3" fill="#6a3d9a" fill-opacity="0.62"/>
<circle cx="436.9" cy="589.2" r="2.3" fill="#6a3d9a" fill-opacity="0.62"/>
<circle cx="439.6" cy="591.8" r="2.3" fill="#6a3d9a" fill-opacity="0.62"/>
<circle cx="442" cy="596.2" r="2.3" fill="#6a3d9a" fill-opacity="0.62"/>
<circle cx="444.5" cy="588.1" r="2.3" fill="#fdb462" fill-opacity="0.62"/>
<circle cx="447.1" cy="574.3" r="2.3" fill="#fdb462" fill-opacity="0.62"/>
<circle cx="449.8" cy="576.2" r="2.3" fill="#fdb462" fill-opacity="0.62"/>
<circle cx="452.3" cy="586.2" r="2.3" fill="#cab2d6" fill-opacity="0.62"/>
<circle cx="454.7" cy="575.7" r="2.3" fill="#cab2d6" fill-opacity="0.62"/>
<circle cx="457.4" cy="575.7" r="2.3" fill="#cab2d6" fill-opacity="0.62"/>
<circle cx="459.9" cy="542.8" r="2.3" fill="#cab2d6" fill-opacity="0.62"/>
<circle cx="462.5" cy="543.9" r="2.3" fill="#cab2d6" fill-opacity="0.62"/>
<circle cx="465" cy="596.9" r="2.3" fill="#c7e9c0" fill-opacity="0.62"/>
<circle cx="467.6" cy="592.8" r="2.3" fill="#c7e9c0" fill-opacity="0.62"/>
<circle cx="470.1" cy="585.2" r="2.3" fill="#c7e9c0" fill-opacity="0.62"/>
<circle cx="472.7" cy="596.2" r="2.3" fill="#fdd0a2" fill-opacity="0.62"/>
<circle cx="475.2" cy="593.3" r="2.3" fill="#fdd0a2" fill-opacity="0.62"/>
<circle cx="477.8" cy="583.3" r="2.3" fill="#fdd0a2" fill-opacity="0.62"/>
<circle cx="508.4" cy="583.7" r="2.3" fill="#74c476" fill-opacity="0.62"/>
<circle cx="511.4" cy="585.2" r="2.3" fill="#74c476" fill-opacity="0.62"/>
<circle cx="513.5" cy="573.9" r="2.3" fill="#74c476" fill-opacity="0.62"/>
<circle cx="516.5" cy="564.9" r="2.3" fill="#74c476" fill-opacity="0.62"/>
<circle cx="518.9" cy="580.7" r="2.3" fill="#1b9e77" fill-opacity="0.62"/>
<circle cx="521" cy="588.8" r="2.3" fill="#1b9e77" fill-opacity="0.62"/>
<circle cx="524" cy="589.1" r="2.3" fill="#1b9e77" fill-opacity="0.62"/>
<circle cx="526.4" cy="592.7" r="2.3" fill="#a6761d" fill-opacity="0.62"/>
<circle cx="528.8" cy="598.1" r="2.3" fill="#a6761d" fill-opacity="0.62"/>
<circle cx="531.8" cy="588.2" r="2.3" fill="#a6761d" fill-opacity="0.62"/>
<circle cx="534.5" cy="566.4" r="2.3" fill="#a6761d" fill-opacity="0.62"/>
<circle cx="536.9" cy="583.7" r="2.3" fill="#e3d3b4" fill-opacity="0.62"/>
<circle cx="539.3" cy="594.2" r="2.3" fill="#e3d3b4" fill-opacity="0.62"/>
<circle cx="542" cy="589.1" r="2.3" fill="#e3d3b4" fill-opacity="0.62"/>
<circle cx="544.4" cy="580.7" r="2.3" fill="#e3d3b4" fill-opacity="0.62"/>
<circle cx="547" cy="578.6" r="2.3" fill="#e3d3b4" fill-opacity="0.62"/>
<circle cx="549.4" cy="578.6" r="2.3" fill="#e3d3b4" fill-opacity="0.62"/>
<circle cx="551.8" cy="591.8" r="2.3" fill="#a6cee3" fill-opacity="0.62"/>
<circle cx="554.5" cy="593.6" r="2.3" fill="#a6cee3" fill-opacity="0.62"/>
<circle cx="556.9" cy="588.8" r="2.3" fill="#a6cee3" fill-opacity="0.62"/>
<circle cx="559.6" cy="585.8" r="2.3" fill="#a6cee3" fill-opacity="0.62"/>
<circle cx="562.6" cy="583.4" r="2.3" fill="#a6cee3" fill-opacity="0.62"/>
<circle cx="565.1" cy="574.5" r="2.3" fill="#a6cee3" fill-opacity="0.62"/>
<circle cx="567.6" cy="596.8" r="2.3" fill="#1f9ee0" fill-opacity="0.62"/>
<circle cx="570.2" cy="591.2" r="2.3" fill="#1f9ee0" fill-opacity="0.62"/>
<circle cx="572.8" cy="602.6" r="2.3" fill="#1f9ee0" fill-opacity="0.62"/>
<circle cx="575.3" cy="601.9" r="2.3" fill="#6a3d9a" fill-opacity="0.62"/>
<circle cx="577.8" cy="596.4" r="2.3" fill="#6a3d9a" fill-opacity="0.62"/>
<circle cx="580.4" cy="603.8" r="2.3" fill="#6a3d9a" fill-opacity="0.62"/>
<circle cx="582.9" cy="591" r="2.3" fill="#6a3d9a" fill-opacity="0.62"/>
<circle cx="585.5" cy="589.1" r="2.3" fill="#6a3d9a" fill-opacity="0.62"/>
<circle cx="588" cy="599.4" r="2.3" fill="#6a3d9a" fill-opacity="0.62"/>
<circle cx="590.7" cy="603.6" r="2.3" fill="#6a3d9a" fill-opacity="0.62"/>
<circle cx="593.3" cy="568" r="2.3" fill="#fdb462" fill-opacity="0.62"/>
<circle cx="595.8" cy="578.1" r="2.3" fill="#fdb462" fill-opacity="0.62"/>
<circle cx="598.4" cy="569" r="2.3" fill="#fdb462" fill-opacity="0.62"/>
<circle cx="600.9" cy="597.8" r="2.3" fill="#cab2d6" fill-opacity="0.62"/>
<circle cx="603.5" cy="580.4" r="2.3" fill="#cab2d6" fill-opacity="0.62"/>
<circle cx="606.1" cy="599.4" r="2.3" fill="#cab2d6" fill-opacity="0.62"/>
<circle cx="608.6" cy="522.6" r="2.3" fill="#cab2d6" fill-opacity="0.62"/>
<circle cx="611.1" cy="498" r="2.3" fill="#cab2d6" fill-opacity="0.62"/>
<circle cx="613.7" cy="603.8" r="2.3" fill="#c7e9c0" fill-opacity="0.62"/>
<circle cx="616.4" cy="604.1" r="2.3" fill="#c7e9c0" fill-opacity="0.62"/>
<circle cx="618.8" cy="594.6" r="2.3" fill="#c7e9c0" fill-opacity="0.62"/>
<circle cx="621.5" cy="604.1" r="2.3" fill="#fdd0a2" fill-opacity="0.62"/>
<circle cx="623.9" cy="596.1" r="2.3" fill="#fdd0a2" fill-opacity="0.62"/>
<circle cx="626.6" cy="585.1" r="2.3" fill="#fdd0a2" fill-opacity="0.62"/>
<text x="-0.8" y="481.9" font-size="10.6" text-anchor="start" fill="#111" >C</text>
<text x="176.2" y="481.9" font-size="10.6" text-anchor="start" fill="#111" >D</text>
<text x="323.6" y="481.4" font-size="10.6" text-anchor="start" fill="#111" >E</text>
<text x="475.6" y="481.9" font-size="10.6" text-anchor="start" fill="#111" >F</text>
<text transform="translate(23.4,546.2) rotate(-90)" font-size="10" text-anchor="middle" fill="#111" >CD3 cells (%)</text>
<text transform="translate(186.4,545.3) rotate(-90)" font-size="10" text-anchor="middle" fill="#111" >CD68 cells (%)</text>
<text transform="translate(342.8,544.7) rotate(-90)" font-size="10" text-anchor="middle" fill="#111" >αSMA cells (%)</text>
<text transform="translate(496.0,545.8) rotate(-90)" font-size="10" text-anchor="middle" fill="#111" >BV area (%)</text>
<text x="96.4" y="623.1" font-size="10" text-anchor="middle" fill="#111" >Tumor slides</text>
<text x="653.9" y="488.6" font-size="9.6" text-anchor="start" fill="#111" >Patient</text>
<circle cx="657.7" cy="497.7" r="3" fill="#74c476" fill-opacity="0.85"/>
<text x="664.5" y="500.4" font-size="7.5" text-anchor="start" fill="#222" >BC1</text>
<circle cx="657.7" cy="507.1" r="3" fill="#1b9e77" fill-opacity="0.85"/>
<text x="664.5" y="509.8" font-size="7.5" text-anchor="start" fill="#222" >BC17</text>
<circle cx="657.7" cy="516.4" r="3" fill="#a6761d" fill-opacity="0.85"/>
<text x="664.5" y="519.1" font-size="7.5" text-anchor="start" fill="#222" >BC21</text>
<circle cx="657.7" cy="525.8" r="3" fill="#e3d3b4" fill-opacity="0.85"/>
<text x="664.5" y="528.5" font-size="7.5" text-anchor="start" fill="#222" >BC22</text>
<circle cx="657.7" cy="535.2" r="3" fill="#a6cee3" fill-opacity="0.85"/>
<text x="664.5" y="537.9" font-size="7.5" text-anchor="start" fill="#222" >BC24</text>
<circle cx="657.7" cy="544.5" r="3" fill="#1f9ee0" fill-opacity="0.85"/>
<text x="664.5" y="547.2" font-size="7.5" text-anchor="start" fill="#222" >BC25</text>
<circle cx="657.7" cy="553.9" r="3" fill="#6a3d9a" fill-opacity="0.85"/>
<text x="664.5" y="556.6" font-size="7.5" text-anchor="start" fill="#222" >BC27</text>
<circle cx="657.7" cy="563.3" r="3" fill="#fdb462" fill-opacity="0.85"/>
<text x="664.5" y="566.0" font-size="7.5" text-anchor="start" fill="#222" >BC3</text>
<circle cx="657.7" cy="572.7" r="3" fill="#cab2d6" fill-opacity="0.85"/>
<text x="664.5" y="575.4" font-size="7.5" text-anchor="start" fill="#222" >BC31</text>
<circle cx="657.7" cy="582.0" r="3" fill="#c7e9c0" fill-opacity="0.85"/>
<text x="664.5" y="584.7" font-size="7.5" text-anchor="start" fill="#222" >BC5</text>
<circle cx="657.7" cy="591.4" r="3" fill="#fdd0a2" fill-opacity="0.85"/>
<text x="664.5" y="594.1" font-size="7.5" text-anchor="start" fill="#222" >BC7</text>
<text x="-0.8" y="690.9" font-size="10.4" text-anchor="start" fill="#111" >G</text>
<rect x="36.8" y="721.50" width="32.72" height="32.72" fill="none" stroke="#c6c6c6" stroke-width="0.9"/>
<line x1="36.80" y1="721.50" x2="36.80" y2="754.22" stroke="#c6c6c6" stroke-width="0.9"/>
<text x="32.3" y="738.1" font-size="10.4" text-anchor="end" fill="#111" >CD3</text>
<text transform="translate(47.4,718.1) rotate(-45)" font-size="10.3" text-anchor="start" fill="#111" >CD3</text>
<rect x="36.8" y="754.22" width="65.44" height="32.72" fill="none" stroke="#c6c6c6" stroke-width="0.9"/>
<line x1="36.80" y1="754.22" x2="36.80" y2="786.94" stroke="#c6c6c6" stroke-width="0.9"/>
<line x1="69.52" y1="754.22" x2="69.52" y2="786.94" stroke="#c6c6c6" stroke-width="0.9"/>
<text x="32.3" y="773.0" font-size="10.4" text-anchor="end" fill="#111" >CD68</text>
<text transform="translate(80.1,750.8) rotate(-45)" font-size="10.3" text-anchor="start" fill="#111" >CD68</text>
<rect x="36.8" y="786.94" width="98.16" height="32.72" fill="none" stroke="#c6c6c6" stroke-width="0.9"/>
<line x1="36.80" y1="786.94" x2="36.80" y2="819.66" stroke="#c6c6c6" stroke-width="0.9"/>
<line x1="69.52" y1="786.94" x2="69.52" y2="819.66" stroke="#c6c6c6" stroke-width="0.9"/>
<line x1="102.24" y1="786.94" x2="102.24" y2="819.66" stroke="#c6c6c6" stroke-width="0.9"/>
<text x="32.3" y="806.4" font-size="10.4" text-anchor="end" fill="#111" >BV</text>
<text transform="translate(112.8,783.5) rotate(-45)" font-size="10.3" text-anchor="start" fill="#111" >BV</text>
<rect x="36.8" y="819.66" width="130.88" height="32.72" fill="none" stroke="#c6c6c6" stroke-width="0.9"/>
<line x1="36.80" y1="819.66" x2="36.80" y2="852.38" stroke="#c6c6c6" stroke-width="0.9"/>
<line x1="69.52" y1="819.66" x2="69.52" y2="852.38" stroke="#c6c6c6" stroke-width="0.9"/>
<line x1="102.24" y1="819.66" x2="102.24" y2="852.38" stroke="#c6c6c6" stroke-width="0.9"/>
<line x1="134.96" y1="819.66" x2="134.96" y2="852.38" stroke="#c6c6c6" stroke-width="0.9"/>
<text x="32.3" y="837.9" font-size="10.4" text-anchor="end" fill="#111" >αSMA</text>
<text transform="translate(145.5,816.3) rotate(-45)" font-size="10.3" text-anchor="start" fill="#111" >αSMA</text>
<rect x="36.8" y="852.38" width="163.60" height="32.72" fill="none" stroke="#c6c6c6" stroke-width="0.9"/>
<line x1="36.80" y1="852.38" x2="36.80" y2="885.10" stroke="#c6c6c6" stroke-width="0.9"/>
<line x1="69.52" y1="852.38" x2="69.52" y2="885.10" stroke="#c6c6c6" stroke-width="0.9"/>
<line x1="102.24" y1="852.38" x2="102.24" y2="885.10" stroke="#c6c6c6" stroke-width="0.9"/>
<line x1="134.96" y1="852.38" x2="134.96" y2="885.10" stroke="#c6c6c6" stroke-width="0.9"/>
<line x1="167.68" y1="852.38" x2="167.68" y2="885.10" stroke="#c6c6c6" stroke-width="0.9"/>
<text x="31.5" y="871.4" font-size="10.4" text-anchor="end" fill="#111" >panCK</text>
<text transform="translate(178.2,849.0) rotate(-45)" font-size="10.3" text-anchor="start" fill="#111" >panCK</text>
<circle cx="53.16" cy="737.86" r="14.9" fill="#67001f"/>
<circle cx="85.88" cy="770.58" r="14.9" fill="#67001f"/>
<circle cx="118.60" cy="803.30" r="14.9" fill="#67001f"/>
<circle cx="151.32" cy="836.02" r="14.9" fill="#67001f"/>
<circle cx="184.04" cy="868.74" r="14.9" fill="#67001f"/>
<circle cx="53.16" cy="770.58" r="9.2" fill="#f4a582"/>
<circle cx="53.16" cy="803.30" r="6.1" fill="#fddbc7"/>
<circle cx="85.88" cy="803.30" r="8.9" fill="#92c5de"/>
<circle cx="53.16" cy="836.02" r="13.5" fill="#2166ac"/>
<circle cx="85.88" cy="836.02" r="11.6" fill="#4393c3"/>
<circle cx="118.60" cy="836.02" r="8.9" fill="#f4a582"/>
<circle cx="53.16" cy="868.74" r="14.1" fill="#053061"/>
<circle cx="85.88" cy="868.74" r="11.3" fill="#2166ac"/>
<circle cx="118.60" cy="868.74" r="6.1" fill="#d1e5f0"/>
<circle cx="151.32" cy="868.74" r="11" fill="#d6604d"/>
<text x="53.2" y="840.6" font-size="10.5" text-anchor="middle" fill="#fff" >*</text>
<text x="85.9" y="873.3" font-size="10.5" text-anchor="middle" fill="#fff" >*</text>
<text x="53.2" y="873.3" font-size="10.5" text-anchor="middle" fill="#fff" >***</text>
<rect x="38.30" y="893.7" width="15.90" height="7.7" fill="#053061"/>
<rect x="54.15" y="893.7" width="15.90" height="7.7" fill="#2166ac"/>
<rect x="70.00" y="893.7" width="15.90" height="7.7" fill="#4393c3"/>
<rect x="85.85" y="893.7" width="15.90" height="7.7" fill="#92c5de"/>
<rect x="101.70" y="893.7" width="15.90" height="7.7" fill="#d1e5f0"/>
<rect x="117.55" y="893.7" width="15.90" height="7.7" fill="#fddbc7"/>
<rect x="133.40" y="893.7" width="15.90" height="7.7" fill="#f4a582"/>
<rect x="149.25" y="893.7" width="15.90" height="7.7" fill="#d6604d"/>
<rect x="165.10" y="893.7" width="15.90" height="7.7" fill="#b2182b"/>
<rect x="180.95" y="893.7" width="15.90" height="7.7" fill="#67001f"/>
<rect x="38.3" y="893.7" width="158.50" height="7.7" fill="none" stroke="#444" stroke-width="0.5"/>
<line x1="38.3" y1="901.4" x2="38.3" y2="902.8" stroke="#444" stroke-width="0.5" />
<text x="38.3" y="908.5" font-size="7.2" text-anchor="middle" fill="#222" >−1</text>
<line x1="54.1" y1="901.4" x2="54.1" y2="902.8" stroke="#444" stroke-width="0.5" />
<text x="54.1" y="908.5" font-size="7.2" text-anchor="middle" fill="#222" >−0.8</text>
<line x1="70.0" y1="901.4" x2="70.0" y2="902.8" stroke="#444" stroke-width="0.5" />
<text x="70.0" y="908.5" font-size="7.2" text-anchor="middle" fill="#222" >−0.6</text>
<line x1="85.8" y1="901.4" x2="85.8" y2="902.8" stroke="#444" stroke-width="0.5" />
<text x="85.8" y="908.5" font-size="7.2" text-anchor="middle" fill="#222" >−0.4</text>
<line x1="101.7" y1="901.4" x2="101.7" y2="902.8" stroke="#444" stroke-width="0.5" />
<text x="101.7" y="908.5" font-size="7.2" text-anchor="middle" fill="#222" >−0.2</text>
<line x1="117.5" y1="901.4" x2="117.5" y2="902.8" stroke="#444" stroke-width="0.5" />
<text x="117.5" y="908.5" font-size="7.2" text-anchor="middle" fill="#222" >0</text>
<line x1="133.4" y1="901.4" x2="133.4" y2="902.8" stroke="#444" stroke-width="0.5" />
<text x="133.4" y="908.5" font-size="7.2" text-anchor="middle" fill="#222" >0.2</text>
<line x1="149.2" y1="901.4" x2="149.2" y2="902.8" stroke="#444" stroke-width="0.5" />
<text x="149.2" y="908.5" font-size="7.2" text-anchor="middle" fill="#222" >0.4</text>
<line x1="165.1" y1="901.4" x2="165.1" y2="902.8" stroke="#444" stroke-width="0.5" />
<text x="165.1" y="908.5" font-size="7.2" text-anchor="middle" fill="#222" >0.6</text>
<line x1="180.9" y1="901.4" x2="180.9" y2="902.8" stroke="#444" stroke-width="0.5" />
<text x="180.9" y="908.5" font-size="7.2" text-anchor="middle" fill="#222" >0.8</text>
<line x1="196.8" y1="901.4" x2="196.8" y2="902.8" stroke="#444" stroke-width="0.5" />
<text x="196.8" y="908.5" font-size="7.2" text-anchor="middle" fill="#222" >1</text>
<text x="118.5" y="921.3" font-size="10.2" text-anchor="middle" fill="#111" >Spearman's correlation coefficient</text>
<text x="209.9" y="689.8" font-size="10.6" text-anchor="start" fill="#111" >H</text>
<path d="M238.7,695.9 L238.7,900.1 L359.1,900.1" fill="none" stroke="#333" stroke-width="0.9"/>
<line x1="237.4" y1="891.2" x2="238.7" y2="891.2" stroke="#333" stroke-width="0.6" />
<text x="236.6" y="893.8" font-size="7.3" text-anchor="end" fill="#222" >0</text>
<line x1="237.4" y1="851.8" x2="238.7" y2="851.8" stroke="#333" stroke-width="0.6" />
<text x="236.6" y="854.4" font-size="7.3" text-anchor="end" fill="#222" >10</text>
<line x1="237.4" y1="812.5" x2="238.7" y2="812.5" stroke="#333" stroke-width="0.6" />
<text x="236.6" y="815.1" font-size="7.3" text-anchor="end" fill="#222" >20</text>
<line x1="237.4" y1="773.1" x2="238.7" y2="773.1" stroke="#333" stroke-width="0.6" />
<text x="236.6" y="775.7" font-size="7.3" text-anchor="end" fill="#222" >30</text>
<line x1="237.4" y1="733.7" x2="238.7" y2="733.7" stroke="#333" stroke-width="0.6" />
<text x="236.6" y="736.3" font-size="7.3" text-anchor="end" fill="#222" >40</text>
<text transform="translate(219.0,792.3) rotate(-90)" font-size="10" text-anchor="middle" fill="#111" >Marker %</text>
<line x1="261.0" y1="762.9" x2="261.0" y2="891.2" stroke="#222" stroke-width="0.8" />
<rect x="250.7" y="818.4" width="20.6" height="53.5" fill="#f3cfcf" stroke="#444" stroke-width="0.7"/>
<line x1="250.7" y1="857.4" x2="271.3" y2="857.4" stroke="#111" stroke-width="1.3" />
<line x1="282.6" y1="815.1" x2="282.6" y2="891.0" stroke="#222" stroke-width="0.8" />
<rect x="272.2" y="854.1" width="20.9" height="27.3" fill="#ee6b6b" stroke="#444" stroke-width="0.7"/>
<line x1="272.2" y1="873.4" x2="293.1" y2="873.4" stroke="#111" stroke-width="1.3" />
<line x1="315.4" y1="812.0" x2="315.4" y2="891.0" stroke="#222" stroke-width="0.8" />
<rect x="305.0" y="846.7" width="20.9" height="24.3" fill="#f3cfcf" stroke="#444" stroke-width="0.7"/>
<line x1="305.0" y1="859.0" x2="325.9" y2="859.0" stroke="#111" stroke-width="1.3" />
<line x1="337.4" y1="838.1" x2="337.4" y2="891.0" stroke="#222" stroke-width="0.8" />
<rect x="326.8" y="859.9" width="21.2" height="14.4" fill="#ee6b6b" stroke="#444" stroke-width="0.7"/>
<line x1="326.8" y1="865.1" x2="348.0" y2="865.1" stroke="#111" stroke-width="1.3" />
<circle cx="265.3" cy="881.2" r="1.35" fill="#7c7c7c" fill-opacity="0.6"/>
<circle cx="256.7" cy="880.5" r="1.35" fill="#7c7c7c" fill-opacity="0.6"/>
<circle cx="263.2" cy="838.2" r="1.35" fill="#7c7c7c" fill-opacity="0.6"/>
<circle cx="264.1" cy="891.2" r="1.35" fill="#7c7c7c" fill-opacity="0.6"/>
<circle cx="256.7" cy="857.1" r="1.35" fill="#7c7c7c" fill-opacity="0.6"/>
<circle cx="263.6" cy="891.2" r="1.35" fill="#7c7c7c" fill-opacity="0.6"/>
<circle cx="259.8" cy="828.2" r="1.35" fill="#7c7c7c" fill-opacity="0.6"/>
<circle cx="261.7" cy="849.1" r="1.35" fill="#7c7c7c" fill-opacity="0.6"/>
<circle cx="256.6" cy="822.2" r="1.35" fill="#7c7c7c" fill-opacity="0.6"/>
<circle cx="256.9" cy="865.5" r="1.35" fill="#7c7c7c" fill-opacity="0.6"/>
<circle cx="258.1" cy="844.5" r="1.35" fill="#7c7c7c" fill-opacity="0.6"/>
<circle cx="265.1" cy="860.4" r="1.35" fill="#7c7c7c" fill-opacity="0.6"/>
<circle cx="258.3" cy="871.0" r="1.35" fill="#7c7c7c" fill-opacity="0.6"/>
<circle cx="263.3" cy="850.4" r="1.35" fill="#7c7c7c" fill-opacity="0.6"/>
<circle cx="264.9" cy="883.0" r="1.35" fill="#7c7c7c" fill-opacity="0.6"/>
<circle cx="265.0" cy="862.0" r="1.35" fill="#7c7c7c" fill-opacity="0.6"/>
<circle cx="259.6" cy="837.6" r="1.35" fill="#7c7c7c" fill-opacity="0.6"/>
<circle cx="259.7" cy="852.5" r="1.35" fill="#7c7c7c" fill-opacity="0.6"/>
<circle cx="261.2" cy="863.3" r="1.35" fill="#7c7c7c" fill-opacity="0.6"/>
<circle cx="263.5" cy="802.9" r="1.35" fill="#7c7c7c" fill-opacity="0.6"/>
<circle cx="257.5" cy="852.4" r="1.35" fill="#7c7c7c" fill-opacity="0.6"/>
<circle cx="263.2" cy="867.5" r="1.35" fill="#7c7c7c" fill-opacity="0.6"/>
<circle cx="263.7" cy="850.1" r="1.35" fill="#7c7c7c" fill-opacity="0.6"/>
<circle cx="264.2" cy="866.0" r="1.35" fill="#7c7c7c" fill-opacity="0.6"/>
<circle cx="256.8" cy="862.8" r="1.35" fill="#7c7c7c" fill-opacity="0.6"/>
<circle cx="265.0" cy="861.9" r="1.35" fill="#7c7c7c" fill-opacity="0.6"/>
<circle cx="257.3" cy="806.7" r="1.35" fill="#7c7c7c" fill-opacity="0.6"/>
<circle cx="259.6" cy="853.3" r="1.35" fill="#7c7c7c" fill-opacity="0.6"/>
<circle cx="262.0" cy="849.7" r="1.35" fill="#7c7c7c" fill-opacity="0.6"/>
<circle cx="264.8" cy="838.1" r="1.35" fill="#7c7c7c" fill-opacity="0.6"/>
<circle cx="259.6" cy="806.9" r="1.35" fill="#7c7c7c" fill-opacity="0.6"/>
<circle cx="264.8" cy="859.0" r="1.35" fill="#7c7c7c" fill-opacity="0.6"/>
<circle cx="261.4" cy="868.3" r="1.35" fill="#7c7c7c" fill-opacity="0.6"/>
<circle cx="259.3" cy="796.2" r="1.35" fill="#7c7c7c" fill-opacity="0.6"/>
<circle cx="259.4" cy="887.8" r="1.35" fill="#7c7c7c" fill-opacity="0.6"/>
<circle cx="258.1" cy="862.3" r="1.35" fill="#7c7c7c" fill-opacity="0.6"/>
<circle cx="257.2" cy="838.3" r="1.35" fill="#7c7c7c" fill-opacity="0.6"/>
<circle cx="257.8" cy="800.7" r="1.35" fill="#7c7c7c" fill-opacity="0.6"/>
<circle cx="262.7" cy="875.9" r="1.35" fill="#7c7c7c" fill-opacity="0.6"/>
<circle cx="265.5" cy="891.2" r="1.35" fill="#7c7c7c" fill-opacity="0.6"/>
<circle cx="258.0" cy="838.4" r="1.35" fill="#7c7c7c" fill-opacity="0.6"/>
<circle cx="256.9" cy="865.9" r="1.35" fill="#7c7c7c" fill-opacity="0.6"/>
<circle cx="265.4" cy="862.8" r="1.35" fill="#7c7c7c" fill-opacity="0.6"/>
<circle cx="261.3" cy="843.1" r="1.35" fill="#7c7c7c" fill-opacity="0.6"/>
<circle cx="260.2" cy="848.6" r="1.35" fill="#7c7c7c" fill-opacity="0.6"/>
<circle cx="258.6" cy="847.0" r="1.35" fill="#7c7c7c" fill-opacity="0.6"/>
<circle cx="261.8" cy="863.8" r="1.35" fill="#7c7c7c" fill-opacity="0.6"/>
<circle cx="263.9" cy="823.8" r="1.35" fill="#7c7c7c" fill-opacity="0.6"/>
<circle cx="260.6" cy="818.8" r="1.35" fill="#7c7c7c" fill-opacity="0.6"/>
<circle cx="260.3" cy="853.1" r="1.35" fill="#7c7c7c" fill-opacity="0.6"/>
<circle cx="257.0" cy="864.3" r="1.35" fill="#7c7c7c" fill-opacity="0.6"/>
<circle cx="264.7" cy="836.7" r="1.35" fill="#7c7c7c" fill-opacity="0.6"/>
<circle cx="256.8" cy="842.7" r="1.35" fill="#7c7c7c" fill-opacity="0.6"/>
<circle cx="260.9" cy="878.0" r="1.35" fill="#7c7c7c" fill-opacity="0.6"/>
<circle cx="264.0" cy="864.5" r="1.35" fill="#7c7c7c" fill-opacity="0.6"/>
<circle cx="257.7" cy="829.4" r="1.35" fill="#7c7c7c" fill-opacity="0.6"/>
<circle cx="263.1" cy="856.0" r="1.35" fill="#7c7c7c" fill-opacity="0.6"/>
<circle cx="265.0" cy="861.4" r="1.35" fill="#7c7c7c" fill-opacity="0.6"/>
<circle cx="262.2" cy="725.8" r="1.35" fill="#7c7c7c" fill-opacity="0.6"/>
<circle cx="263.6" cy="763.2" r="1.35" fill="#7c7c7c" fill-opacity="0.6"/>
<circle cx="257.5" cy="779.0" r="1.35" fill="#7c7c7c" fill-opacity="0.6"/>
<circle cx="260.4" cy="788.8" r="1.35" fill="#7c7c7c" fill-opacity="0.6"/>
<circle cx="257.8" cy="804.6" r="1.35" fill="#7c7c7c" fill-opacity="0.6"/>
<circle cx="282.9" cy="863.7" r="1.35" fill="#7c7c7c" fill-opacity="0.6"/>
<circle cx="279.6" cy="878.2" r="1.35" fill="#7c7c7c" fill-opacity="0.6"/>
<circle cx="285.6" cy="891.2" r="1.35" fill="#7c7c7c" fill-opacity="0.6"/>
<circle cx="286.5" cy="855.7" r="1.35" fill="#7c7c7c" fill-opacity="0.6"/>
<circle cx="282.4" cy="849.0" r="1.35" fill="#7c7c7c" fill-opacity="0.6"/>
<circle cx="284.3" cy="891.2" r="1.35" fill="#7c7c7c" fill-opacity="0.6"/>
<circle cx="284.6" cy="883.4" r="1.35" fill="#7c7c7c" fill-opacity="0.6"/>
<circle cx="284.7" cy="865.4" r="1.35" fill="#7c7c7c" fill-opacity="0.6"/>
<circle cx="279.6" cy="871.4" r="1.35" fill="#7c7c7c" fill-opacity="0.6"/>
<circle cx="285.1" cy="883.7" r="1.35" fill="#7c7c7c" fill-opacity="0.6"/>
<circle cx="283.3" cy="872.8" r="1.35" fill="#7c7c7c" fill-opacity="0.6"/>
<circle cx="284.1" cy="857.2" r="1.35" fill="#7c7c7c" fill-opacity="0.6"/>
<circle cx="281.9" cy="862.2" r="1.35" fill="#7c7c7c" fill-opacity="0.6"/>
<circle cx="283.7" cy="859.8" r="1.35" fill="#7c7c7c" fill-opacity="0.6"/>
<circle cx="285.1" cy="837.9" r="1.35" fill="#7c7c7c" fill-opacity="0.6"/>
<circle cx="283.8" cy="871.9" r="1.35" fill="#7c7c7c" fill-opacity="0.6"/>
<circle cx="284.6" cy="879.8" r="1.35" fill="#7c7c7c" fill-opacity="0.6"/>
<circle cx="278.3" cy="880.1" r="1.35" fill="#7c7c7c" fill-opacity="0.6"/>
<circle cx="279.5" cy="872.4" r="1.35" fill="#7c7c7c" fill-opacity="0.6"/>
<circle cx="282.1" cy="864.9" r="1.35" fill="#7c7c7c" fill-opacity="0.6"/>
<circle cx="284.0" cy="872.6" r="1.35" fill="#7c7c7c" fill-opacity="0.6"/>
<circle cx="280.1" cy="847.9" r="1.35" fill="#7c7c7c" fill-opacity="0.6"/>
<circle cx="284.3" cy="861.6" r="1.35" fill="#7c7c7c" fill-opacity="0.6"/>
<circle cx="283.8" cy="878.3" r="1.35" fill="#7c7c7c" fill-opacity="0.6"/>
<circle cx="278.5" cy="864.7" r="1.35" fill="#7c7c7c" fill-opacity="0.6"/>
<circle cx="282.3" cy="890.6" r="1.35" fill="#7c7c7c" fill-opacity="0.6"/>
<circle cx="280.1" cy="875.9" r="1.35" fill="#7c7c7c" fill-opacity="0.6"/>
<circle cx="278.6" cy="886.9" r="1.35" fill="#7c7c7c" fill-opacity="0.6"/>
<circle cx="279.3" cy="868.8" r="1.35" fill="#7c7c7c" fill-opacity="0.6"/>
<circle cx="281.0" cy="881.4" r="1.35" fill="#7c7c7c" fill-opacity="0.6"/>
<circle cx="279.7" cy="872.4" r="1.35" fill="#7c7c7c" fill-opacity="0.6"/>
<circle cx="279.8" cy="879.3" r="1.35" fill="#7c7c7c" fill-opacity="0.6"/>
<circle cx="278.4" cy="890.9" r="1.35" fill="#7c7c7c" fill-opacity="0.6"/>
<circle cx="282.3" cy="867.6" r="1.35" fill="#7c7c7c" fill-opacity="0.6"/>
<circle cx="281.5" cy="873.3" r="1.35" fill="#7c7c7c" fill-opacity="0.6"/>
<circle cx="283.6" cy="879.3" r="1.35" fill="#7c7c7c" fill-opacity="0.6"/>
<circle cx="283.4" cy="852.5" r="1.35" fill="#7c7c7c" fill-opacity="0.6"/>
<circle cx="280.2" cy="875.6" r="1.35" fill="#7c7c7c" fill-opacity="0.6"/>
<circle cx="286.2" cy="871.2" r="1.35" fill="#7c7c7c" fill-opacity="0.6"/>
<circle cx="278.1" cy="870.5" r="1.35" fill="#7c7c7c" fill-opacity="0.6"/>
<circle cx="281.7" cy="878.7" r="1.35" fill="#7c7c7c" fill-opacity="0.6"/>
<circle cx="280.6" cy="872.3" r="1.35" fill="#7c7c7c" fill-opacity="0.6"/>
<circle cx="281.8" cy="876.1" r="1.35" fill="#7c7c7c" fill-opacity="0.6"/>
<circle cx="279.1" cy="881.9" r="1.35" fill="#7c7c7c" fill-opacity="0.6"/>
<circle cx="285.6" cy="862.2" r="1.35" fill="#7c7c7c" fill-opacity="0.6"/>
<circle cx="281.5" cy="886.1" r="1.35" fill="#7c7c7c" fill-opacity="0.6"/>
<circle cx="278.4" cy="866.1" r="1.35" fill="#7c7c7c" fill-opacity="0.6"/>
<circle cx="283.6" cy="880.6" r="1.35" fill="#7c7c7c" fill-opacity="0.6"/>
<circle cx="279.0" cy="882.2" r="1.35" fill="#7c7c7c" fill-opacity="0.6"/>
<circle cx="283.0" cy="885.7" r="1.35" fill="#7c7c7c" fill-opacity="0.6"/>
<circle cx="281.2" cy="864.1" r="1.35" fill="#7c7c7c" fill-opacity="0.6"/>
<circle cx="283.3" cy="879.8" r="1.35" fill="#7c7c7c" fill-opacity="0.6"/>
<circle cx="286.7" cy="855.6" r="1.35" fill="#7c7c7c" fill-opacity="0.6"/>
<circle cx="285.5" cy="890.7" r="1.35" fill="#7c7c7c" fill-opacity="0.6"/>
<circle cx="281.9" cy="882.5" r="1.35" fill="#7c7c7c" fill-opacity="0.6"/>
<circle cx="285.4" cy="891.2" r="1.35" fill="#7c7c7c" fill-opacity="0.6"/>
<circle cx="283.9" cy="855.0" r="1.35" fill="#7c7c7c" fill-opacity="0.6"/>
<circle cx="281.4" cy="873.6" r="1.35" fill="#7c7c7c" fill-opacity="0.6"/>
<circle cx="279.4" cy="704.2" r="1.35" fill="#7c7c7c" fill-opacity="0.6"/>
<circle cx="283.5" cy="731.8" r="1.35" fill="#7c7c7c" fill-opacity="0.6"/>
<circle cx="283.2" cy="754.2" r="1.35" fill="#7c7c7c" fill-opacity="0.6"/>
<circle cx="286.7" cy="796.7" r="1.35" fill="#7c7c7c" fill-opacity="0.6"/>
<circle cx="286.8" cy="798.7" r="1.35" fill="#7c7c7c" fill-opacity="0.6"/>
<circle cx="283.6" cy="816.4" r="1.35" fill="#7c7c7c" fill-opacity="0.6"/>
<circle cx="314.2" cy="872.4" r="1.35" fill="#7c7c7c" fill-opacity="0.6"/>
<circle cx="317.7" cy="840.6" r="1.35" fill="#7c7c7c" fill-opacity="0.6"/>
<circle cx="316.3" cy="853.8" r="1.35" fill="#7c7c7c" fill-opacity="0.6"/>
<circle cx="311.3" cy="858.9" r="1.35" fill="#7c7c7c" fill-opacity="0.6"/>
<circle cx="313.3" cy="872.5" r="1.35" fill="#7c7c7c" fill-opacity="0.6"/>
<circle cx="315.1" cy="864.9" r="1.35" fill="#7c7c7c" fill-opacity="0.6"/>
<circle cx="319.2" cy="849.3" r="1.35" fill="#7c7c7c" fill-opacity="0.6"/>
<circle cx="319.0" cy="847.2" r="1.35" fill="#7c7c7c" fill-opacity="0.6"/>
<circle cx="315.9" cy="850.8" r="1.35" fill="#7c7c7c" fill-opacity="0.6"/>
<circle cx="311.1" cy="865.5" r="1.35" fill="#7c7c7c" fill-opacity="0.6"/>
<circle cx="318.0" cy="865.9" r="1.35" fill="#7c7c7c" fill-opacity="0.6"/>
<circle cx="314.8" cy="855.7" r="1.35" fill="#7c7c7c" fill-opacity="0.6"/>
<circle cx="316.2" cy="866.3" r="1.35" fill="#7c7c7c" fill-opacity="0.6"/>
<circle cx="317.4" cy="831.1" r="1.35" fill="#7c7c7c" fill-opacity="0.6"/>
<circle cx="316.7" cy="878.8" r="1.35" fill="#7c7c7c" fill-opacity="0.6"/>
<circle cx="315.3" cy="840.2" r="1.35" fill="#7c7c7c" fill-opacity="0.6"/>
<circle cx="319.2" cy="846.5" r="1.35" fill="#7c7c7c" fill-opacity="0.6"/>
<circle cx="314.5" cy="866.4" r="1.35" fill="#7c7c7c" fill-opacity="0.6"/>
<circle cx="314.5" cy="860.8" r="1.35" fill="#7c7c7c" fill-opacity="0.6"/>
<circle cx="318.7" cy="828.7" r="1.35" fill="#7c7c7c" fill-opacity="0.6"/>
<circle cx="312.8" cy="870.0" r="1.35" fill="#7c7c7c" fill-opacity="0.6"/>
<circle cx="313.7" cy="858.7" r="1.35" fill="#7c7c7c" fill-opacity="0.6"/>
<circle cx="318.5" cy="871.9" r="1.35" fill="#7c7c7c" fill-opacity="0.6"/>
<circle cx="311.6" cy="830.8" r="1.35" fill="#7c7c7c" fill-opacity="0.6"/>
<circle cx="318.5" cy="867.7" r="1.35" fill="#7c7c7c" fill-opacity="0.6"/>
<circle cx="317.3" cy="858.5" r="1.35" fill="#7c7c7c" fill-opacity="0.6"/>
<circle cx="314.9" cy="864.3" r="1.35" fill="#7c7c7c" fill-opacity="0.6"/>
<circle cx="313.6" cy="858.1" r="1.35" fill="#7c7c7c" fill-opacity="0.6"/>
<circle cx="318.0" cy="867.3" r="1.35" fill="#7c7c7c" fill-opacity="0.6"/>
<circle cx="319.2" cy="867.0" r="1.35" fill="#7c7c7c" fill-opacity="0.6"/>
<circle cx="312.3" cy="863.9" r="1.35" fill="#7c7c7c" fill-opacity="0.6"/>
<circle cx="315.3" cy="840.9" r="1.35" fill="#7c7c7c" fill-opacity="0.6"/>
<circle cx="315.9" cy="858.1" r="1.35" fill="#7c7c7c" fill-opacity="0.6"/>
<circle cx="315.5" cy="860.5" r="1.35" fill="#7c7c7c" fill-opacity="0.6"/>
<circle cx="314.0" cy="867.3" r="1.35" fill="#7c7c7c" fill-opacity="0.6"/>
<circle cx="312.4" cy="860.7" r="1.35" fill="#7c7c7c" fill-opacity="0.6"/>
<circle cx="316.3" cy="841.7" r="1.35" fill="#7c7c7c" fill-opacity="0.6"/>
<circle cx="318.3" cy="866.3" r="1.35" fill="#7c7c7c" fill-opacity="0.6"/>
<circle cx="311.6" cy="858.7" r="1.35" fill="#7c7c7c" fill-opacity="0.6"/>
<circle cx="313.1" cy="850.4" r="1.35" fill="#7c7c7c" fill-opacity="0.6"/>
<circle cx="318.4" cy="840.8" r="1.35" fill="#7c7c7c" fill-opacity="0.6"/>
<circle cx="318.1" cy="832.3" r="1.35" fill="#7c7c7c" fill-opacity="0.6"/>
<circle cx="317.0" cy="862.9" r="1.35" fill="#7c7c7c" fill-opacity="0.6"/>
<circle cx="311.2" cy="844.8" r="1.35" fill="#7c7c7c" fill-opacity="0.6"/>
<circle cx="317.5" cy="874.2" r="1.35" fill="#7c7c7c" fill-opacity="0.6"/>
<circle cx="319.8" cy="856.5" r="1.35" fill="#7c7c7c" fill-opacity="0.6"/>
<circle cx="320.0" cy="873.0" r="1.35" fill="#7c7c7c" fill-opacity="0.6"/>
<circle cx="317.3" cy="869.7" r="1.35" fill="#7c7c7c" fill-opacity="0.6"/>
<circle cx="311.4" cy="845.5" r="1.35" fill="#7c7c7c" fill-opacity="0.6"/>
<circle cx="318.6" cy="846.6" r="1.35" fill="#7c7c7c" fill-opacity="0.6"/>
<circle cx="313.0" cy="863.1" r="1.35" fill="#7c7c7c" fill-opacity="0.6"/>
<circle cx="316.8" cy="846.3" r="1.35" fill="#7c7c7c" fill-opacity="0.6"/>
<circle cx="319.6" cy="863.6" r="1.35" fill="#7c7c7c" fill-opacity="0.6"/>
<circle cx="317.4" cy="851.2" r="1.35" fill="#7c7c7c" fill-opacity="0.6"/>
<circle cx="312.2" cy="870.7" r="1.35" fill="#7c7c7c" fill-opacity="0.6"/>
<circle cx="313.6" cy="861.2" r="1.35" fill="#7c7c7c" fill-opacity="0.6"/>
<circle cx="319.3" cy="812.5" r="1.35" fill="#7c7c7c" fill-opacity="0.6"/>
<circle cx="312.3" cy="814.4" r="1.35" fill="#7c7c7c" fill-opacity="0.6"/>
<circle cx="316.5" cy="824.3" r="1.35" fill="#7c7c7c" fill-opacity="0.6"/>
<circle cx="341.7" cy="870.4" r="1.35" fill="#7c7c7c" fill-opacity="0.6"/>
<circle cx="338.9" cy="864.6" r="1.35" fill="#7c7c7c" fill-opacity="0.6"/>
<circle cx="340.3" cy="868.3" r="1.35" fill="#7c7c7c" fill-opacity="0.6"/>
<circle cx="334.2" cy="868.3" r="1.35" fill="#7c7c7c" fill-opacity="0.6"/>
<circle cx="338.5" cy="861.4" r="1.35" fill="#7c7c7c" fill-opacity="0.6"/>
<circle cx="336.1" cy="862.4" r="1.35" fill="#7c7c7c" fill-opacity="0.6"/>
<circle cx="335.0" cy="864.6" r="1.35" fill="#7c7c7c" fill-opacity="0.6"/>
<circle cx="335.9" cy="865.7" r="1.35" fill="#7c7c7c" fill-opacity="0.6"/>
<circle cx="338.4" cy="877.3" r="1.35" fill="#7c7c7c" fill-opacity="0.6"/>
<circle cx="336.0" cy="872.2" r="1.35" fill="#7c7c7c" fill-opacity="0.6"/>
<circle cx="336.4" cy="864.0" r="1.35" fill="#7c7c7c" fill-opacity="0.6"/>
<circle cx="334.1" cy="869.4" r="1.35" fill="#7c7c7c" fill-opacity="0.6"/>
<circle cx="340.4" cy="872.4" r="1.35" fill="#7c7c7c" fill-opacity="0.6"/>
<circle cx="338.7" cy="864.2" r="1.35" fill="#7c7c7c" fill-opacity="0.6"/>
<circle cx="340.1" cy="873.5" r="1.35" fill="#7c7c7c" fill-opacity="0.6"/>
<circle cx="336.8" cy="871.7" r="1.35" fill="#7c7c7c" fill-opacity="0.6"/>
<circle cx="340.6" cy="860.4" r="1.35" fill="#7c7c7c" fill-opacity="0.6"/>
<circle cx="337.6" cy="869.4" r="1.35" fill="#7c7c7c" fill-opacity="0.6"/>
<circle cx="338.2" cy="856.4" r="1.35" fill="#7c7c7c" fill-opacity="0.6"/>
<circle cx="338.1" cy="863.0" r="1.35" fill="#7c7c7c" fill-opacity="0.6"/>
<circle cx="339.6" cy="860.9" r="1.35" fill="#7c7c7c" fill-opacity="0.6"/>
<circle cx="336.5" cy="858.6" r="1.35" fill="#7c7c7c" fill-opacity="0.6"/>
<circle cx="333.8" cy="882.5" r="1.35" fill="#7c7c7c" fill-opacity="0.6"/>
<circle cx="333.2" cy="867.4" r="1.35" fill="#7c7c7c" fill-opacity="0.6"/>
<circle cx="334.7" cy="876.2" r="1.35" fill="#7c7c7c" fill-opacity="0.6"/>
<circle cx="333.3" cy="870.2" r="1.35" fill="#7c7c7c" fill-opacity="0.6"/>
<circle cx="340.9" cy="867.5" r="1.35" fill="#7c7c7c" fill-opacity="0.6"/>
<circle cx="337.2" cy="857.8" r="1.35" fill="#7c7c7c" fill-opacity="0.6"/>
<circle cx="339.7" cy="867.1" r="1.35" fill="#7c7c7c" fill-opacity="0.6"/>
<circle cx="332.9" cy="854.9" r="1.35" fill="#7c7c7c" fill-opacity="0.6"/>
<circle cx="337.1" cy="870.6" r="1.35" fill="#7c7c7c" fill-opacity="0.6"/>
<circle cx="340.9" cy="867.2" r="1.35" fill="#7c7c7c" fill-opacity="0.6"/>
<circle cx="338.5" cy="866.1" r="1.35" fill="#7c7c7c" fill-opacity="0.6"/>
<circle cx="336.8" cy="859.9" r="1.35" fill="#7c7c7c" fill-opacity="0.6"/>
<circle cx="337.1" cy="867.2" r="1.35" fill="#7c7c7c" fill-opacity="0.6"/>
<circle cx="333.8" cy="871.3" r="1.35" fill="#7c7c7c" fill-opacity="0.6"/>
<circle cx="334.3" cy="869.2" r="1.35" fill="#7c7c7c" fill-opacity="0.6"/>
<circle cx="334.3" cy="877.0" r="1.35" fill="#7c7c7c" fill-opacity="0.6"/>
<circle cx="336.3" cy="857.6" r="1.35" fill="#7c7c7c" fill-opacity="0.6"/>
<circle cx="336.4" cy="861.4" r="1.35" fill="#7c7c7c" fill-opacity="0.6"/>
<circle cx="340.8" cy="863.7" r="1.35" fill="#7c7c7c" fill-opacity="0.6"/>
<circle cx="334.3" cy="864.8" r="1.35" fill="#7c7c7c" fill-opacity="0.6"/>
<circle cx="335.2" cy="871.2" r="1.35" fill="#7c7c7c" fill-opacity="0.6"/>
<circle cx="335.4" cy="869.7" r="1.35" fill="#7c7c7c" fill-opacity="0.6"/>
<circle cx="334.4" cy="860.9" r="1.35" fill="#7c7c7c" fill-opacity="0.6"/>
<circle cx="335.5" cy="872.5" r="1.35" fill="#7c7c7c" fill-opacity="0.6"/>
<circle cx="335.0" cy="872.5" r="1.35" fill="#7c7c7c" fill-opacity="0.6"/>
<circle cx="337.2" cy="855.3" r="1.35" fill="#7c7c7c" fill-opacity="0.6"/>
<circle cx="333.2" cy="855.5" r="1.35" fill="#7c7c7c" fill-opacity="0.6"/>
<circle cx="341.2" cy="864.7" r="1.35" fill="#7c7c7c" fill-opacity="0.6"/>
<circle cx="336.2" cy="862.9" r="1.35" fill="#7c7c7c" fill-opacity="0.6"/>
<circle cx="341.3" cy="865.4" r="1.35" fill="#7c7c7c" fill-opacity="0.6"/>
<circle cx="339.1" cy="856.5" r="1.35" fill="#7c7c7c" fill-opacity="0.6"/>
<circle cx="339.0" cy="870.0" r="1.35" fill="#7c7c7c" fill-opacity="0.6"/>
<circle cx="337.1" cy="866.2" r="1.35" fill="#7c7c7c" fill-opacity="0.6"/>
<circle cx="341.4" cy="863.3" r="1.35" fill="#7c7c7c" fill-opacity="0.6"/>
<circle cx="334.0" cy="821.1" r="1.35" fill="#7c7c7c" fill-opacity="0.6"/>
<circle cx="338.9" cy="838.1" r="1.35" fill="#7c7c7c" fill-opacity="0.6"/>
<circle cx="335.5" cy="844.0" r="1.35" fill="#7c7c7c" fill-opacity="0.6"/>
<rect x="325.3" y="695.3" width="7.4" height="7.7" fill="#f3cfcf"/>
<rect x="325.3" y="706.6" width="7.4" height="8" fill="#ee6b6b"/>
<text x="336.0" y="702.0" font-size="7.4" text-anchor="start" fill="#222" >BV Low</text>
<text x="336.0" y="713.7" font-size="7.4" text-anchor="start" fill="#222" >BV High</text>
<text x="273.7" y="912.7" font-size="10" text-anchor="middle" fill="#111" >CD3</text>
<text x="326.8" y="912.7" font-size="10" text-anchor="middle" fill="#111" >CD68</text>
<text x="272.9" y="742.9" font-size="7.3" text-anchor="middle" fill="#111"><tspan font-style="italic">p</tspan> = 0.028</text>
<text x="272.9" y="750.9" font-size="7.3" text-anchor="middle" fill="#111"><tspan font-style="italic">p</tspan><tspan font-size="4.5" dy="1.6" font-style="italic">adj.</tspan><tspan dy="-1.6"> n.s</tspan></text>
<line x1="256.2" y1="755.3" x2="289.0" y2="755.3" stroke="#333" stroke-width="0.7" />
<text x="334.0" y="775.1" font-size="7.3" text-anchor="middle" fill="#111"><tspan font-style="italic">p</tspan> = 6 x 10<tspan font-size="4.4" dy="-2.8">−4</tspan></text>
<text x="334.5" y="783.4" font-size="7.3" text-anchor="middle" fill="#111"><tspan font-style="italic">p</tspan><tspan font-size="4.5" dy="1.6" font-style="italic">adj.</tspan><tspan dy="-1.6"> n.s</tspan></text>
<line x1="318.2" y1="788.0" x2="350.5" y2="788.0" stroke="#333" stroke-width="0.7" />
<text x="387.6" y="663.5" font-size="10.6" text-anchor="start" fill="#111" >I</text>
<text x="384.6" y="804.4" font-size="10.6" text-anchor="start" fill="#111" >J</text>
<path d="M415.4,672.4 L415.4,770.6 L480,770.6" fill="none" stroke="#333" stroke-width="0.9"/>
<line x1="414.1" y1="769.3" x2="415.4" y2="769.3" stroke="#333" stroke-width="0.6" />
<text transform="translate(413.2,769.3) rotate(-90)" font-size="7.3" text-anchor="middle" fill="#222" >0</text>
<line x1="414.1" y1="747.6" x2="415.4" y2="747.6" stroke="#333" stroke-width="0.6" />
<text transform="translate(413.2,747.6) rotate(-90)" font-size="7.3" text-anchor="middle" fill="#222" >10</text>
<line x1="414.1" y1="725.9" x2="415.4" y2="725.9" stroke="#333" stroke-width="0.6" />
<text transform="translate(413.2,725.9) rotate(-90)" font-size="7.3" text-anchor="middle" fill="#222" >20</text>
<line x1="414.1" y1="704.2" x2="415.4" y2="704.2" stroke="#333" stroke-width="0.6" />
<text transform="translate(413.2,704.2) rotate(-90)" font-size="7.3" text-anchor="middle" fill="#222" >30</text>
<line x1="414.1" y1="682.5" x2="415.4" y2="682.5" stroke="#333" stroke-width="0.6" />
<text transform="translate(413.2,682.5) rotate(-90)" font-size="7.3" text-anchor="middle" fill="#222" >40</text>
<path d="M430.2,715.4 L430.3,720.0 L431.1,726.0 L431.5,733.0 L431.1,738.0 L429.8,742.0 L426.8,746.0 L423.8,750.0 L420.8,754.0 L419.8,757.0 L420.1,760.0 L421.3,763.0 L422.8,766.2 L443.8,766.2 L445.3,763.0 L446.5,760.0 L446.8,757.0 L445.8,754.0 L442.8,750.0 L439.8,746.0 L436.8,742.0 L435.5,738.0 L435.1,733.0 L435.5,726.0 L436.3,720.0 L436.4,715.4 Z" fill="#56a334" stroke="#333" stroke-width="0.5" stroke-linejoin="round"/>
<line x1="433.4" y1="728.4" x2="433.4" y2="766.2" stroke="#222" stroke-width="0.6" />
<rect x="431.9" y="746.3" width="2.9" height="14.6" fill="#fff" stroke="#222" stroke-width="0.45"/>
<line x1="431.9" y1="754.0" x2="434.8" y2="754.0" stroke="#222" stroke-width="0.7" />
<circle cx="433.4" cy="719.5" r="0.8" fill="#222"/>
<path d="M463.1,676.5 L462.4,685.0 L461.1,695.0 L459.6,705.0 L457.6,713.0 L455.6,720.0 L454.7,726.0 L454.7,731.0 L455.8,737.0 L457.4,744.0 L458.4,750.0 L458.6,756.0 L458.0,761.0 L457.8,765.4 L469.4,765.4 L469.2,761.0 L468.6,756.0 L468.8,750.0 L469.8,744.0 L471.4,737.0 L472.5,731.0 L472.5,726.0 L471.6,720.0 L469.6,713.0 L467.6,705.0 L466.1,695.0 L464.8,685.0 L464.1,676.5 Z" fill="#6c3fa0" stroke="#333" stroke-width="0.5" stroke-linejoin="round"/>
<line x1="463.8" y1="676.5" x2="463.8" y2="765.4" stroke="#222" stroke-width="0.6" />
<rect x="462.1" y="725.7" width="3.3" height="20.6" fill="#fff" stroke="#222" stroke-width="0.45"/>
<line x1="462.1" y1="731.7" x2="465.4" y2="731.7" stroke="#222" stroke-width="0.7" />
<path d="M502.8,672.4 L502.8,771.1 L567.3,771.1" fill="none" stroke="#333" stroke-width="0.9"/>
<line x1="501.5" y1="769.5" x2="502.8" y2="769.5" stroke="#333" stroke-width="0.6" />
<text transform="translate(500.5,769.5) rotate(-90)" font-size="7.3" text-anchor="middle" fill="#222" >0</text>
<line x1="501.5" y1="744.4" x2="502.8" y2="744.4" stroke="#333" stroke-width="0.6" />
<text transform="translate(500.5,744.4) rotate(-90)" font-size="7.3" text-anchor="middle" fill="#222" >5</text>
<line x1="501.5" y1="719.3" x2="502.8" y2="719.3" stroke="#333" stroke-width="0.6" />
<text transform="translate(500.5,719.3) rotate(-90)" font-size="7.3" text-anchor="middle" fill="#222" >10</text>
<line x1="501.5" y1="694.2" x2="502.8" y2="694.2" stroke="#333" stroke-width="0.6" />
<text transform="translate(500.5,694.2) rotate(-90)" font-size="7.3" text-anchor="middle" fill="#222" >15</text>
<path d="M511.3,722.4 L509.1,725.0 L507.5,729.0 L507.3,733.0 L508.3,737.0 L510.8,741.0 L513.8,745.0 L515.6,749.0 L516.2,753.0 L516.3,760.0 L516.5,767.0 L524.7,767.0 L524.9,760.0 L525.0,753.0 L525.6,749.0 L527.4,745.0 L530.4,741.0 L532.9,737.0 L533.9,733.0 L533.7,729.0 L532.1,725.0 L529.9,722.4 Z" fill="#56a334" stroke="#333" stroke-width="0.5" stroke-linejoin="round"/>
<line x1="520.6" y1="722.4" x2="520.6" y2="767.0" stroke="#222" stroke-width="0.6" />
<rect x="519.2" y="728.4" width="2.7" height="18.7" fill="#fff" stroke="#222" stroke-width="0.45"/>
<line x1="519.2" y1="734.1" x2="522.0" y2="734.1" stroke="#222" stroke-width="0.7" />
<path d="M548.8,680.2 L548.2,688.0 L547.0,698.0 L545.5,708.0 L544.0,718.0 L542.4,728.0 L541.6,736.0 L542.4,743.0 L543.8,749.0 L544.5,754.4 L555.5,754.4 L556.2,749.0 L557.6,743.0 L558.4,736.0 L557.6,728.0 L556.0,718.0 L554.5,708.0 L553.0,698.0 L551.8,688.0 L551.2,680.2 Z" fill="#6c3fa0" stroke="#333" stroke-width="0.5" stroke-linejoin="round"/>
<line x1="550.0" y1="680.2" x2="550.0" y2="754.4" stroke="#222" stroke-width="0.6" />
<rect x="548.8" y="707.8" width="2.5" height="34.1" fill="#fff" stroke="#222" stroke-width="0.45"/>
<line x1="548.8" y1="731.3" x2="551.2" y2="731.3" stroke="#222" stroke-width="0.7" />
<path d="M593.5,672.7 L593.5,770.9 L658.6,770.9" fill="none" stroke="#333" stroke-width="0.9"/>
<line x1="592.2" y1="769.8" x2="593.5" y2="769.8" stroke="#333" stroke-width="0.6" />
<text transform="translate(591.6,769.8) rotate(-90)" font-size="7.3" text-anchor="middle" fill="#222" >0</text>
<line x1="592.2" y1="741.0" x2="593.5" y2="741.0" stroke="#333" stroke-width="0.6" />
<text transform="translate(591.6,741.0) rotate(-90)" font-size="7.3" text-anchor="middle" fill="#222" >20</text>
<line x1="592.2" y1="712.1" x2="593.5" y2="712.1" stroke="#333" stroke-width="0.6" />
<text transform="translate(591.6,712.1) rotate(-90)" font-size="7.3" text-anchor="middle" fill="#222" >40</text>
<line x1="592.2" y1="683.3" x2="593.5" y2="683.3" stroke="#333" stroke-width="0.6" />
<text transform="translate(591.6,683.3) rotate(-90)" font-size="7.3" text-anchor="middle" fill="#222" >60</text>
<path d="M607.2,676.9 L606.0,685.0 L605.5,693.7 L605.9,703.0 L606.8,712.0 L608.0,722.0 L609.2,732.0 L610.0,740.7 L609.8,748.0 L609.2,755.3 L614.0,755.3 L613.4,748.0 L613.2,740.7 L614.0,732.0 L615.2,722.0 L616.4,712.0 L617.3,703.0 L617.7,693.7 L617.2,685.0 L616.0,676.9 Z" fill="#56a334" stroke="#333" stroke-width="0.5" stroke-linejoin="round"/>
<line x1="611.6" y1="676.9" x2="611.6" y2="755.3" stroke="#222" stroke-width="0.6" />
<rect x="610.0" y="693.7" width="3.3" height="27.7" fill="#fff" stroke="#222" stroke-width="0.45"/>
<line x1="610.0" y1="700.8" x2="613.3" y2="700.8" stroke="#222" stroke-width="0.7" />
<path d="M640.9,694.0 L640.6,705.0 L640.1,718.0 L639.3,728.0 L637.7,737.0 L635.2,744.0 L631.7,750.0 L629.1,754.0 L628.2,757.5 L629.2,761.0 L630.9,764.0 L632.1,766.2 L651.3,766.2 L652.5,764.0 L654.2,761.0 L655.2,757.5 L654.3,754.0 L651.7,750.0 L648.2,744.0 L645.7,737.0 L644.1,728.0 L643.3,718.0 L642.8,705.0 L642.5,694.0 Z" fill="#6c3fa0" stroke="#333" stroke-width="0.5" stroke-linejoin="round"/>
<line x1="641.8" y1="694.0" x2="641.8" y2="766.2" stroke="#222" stroke-width="0.6" />
<rect x="640.2" y="741.6" width="3.2" height="18.4" fill="#fff" stroke="#222" stroke-width="0.45"/>
<line x1="640.2" y1="755.5" x2="643.4" y2="755.5" stroke="#222" stroke-width="0.7" />
<path d="M411.4,813.9 L411.4,905.1 L479.2,905.1" fill="none" stroke="#333" stroke-width="0.9"/>
<line x1="410.1" y1="901.9" x2="411.4" y2="901.9" stroke="#333" stroke-width="0.6" />
<text transform="translate(409.2,901.9) rotate(-90)" font-size="7.3" text-anchor="middle" fill="#222" >0</text>
<line x1="410.1" y1="870.4" x2="411.4" y2="870.4" stroke="#333" stroke-width="0.6" />
<text transform="translate(409.2,870.4) rotate(-90)" font-size="7.3" text-anchor="middle" fill="#222" >5</text>
<line x1="410.1" y1="838.9" x2="411.4" y2="838.9" stroke="#333" stroke-width="0.6" />
<text transform="translate(409.2,838.9) rotate(-90)" font-size="7.3" text-anchor="middle" fill="#222" >10</text>
<path d="M429.5,819.5 L429.3,830.0 L429.1,845.0 L428.6,858.0 L427.7,866.0 L426.2,874.0 L423.7,881.0 L420.2,887.0 L416.7,892.0 L415.7,895.8 L417.2,898.5 L420.2,900.6 L440.2,900.6 L443.2,898.5 L444.7,895.8 L443.7,892.0 L440.2,887.0 L436.7,881.0 L434.2,874.0 L432.7,866.0 L431.8,858.0 L431.3,845.0 L431.1,830.0 L430.9,819.5 Z" fill="#56a334" stroke="#333" stroke-width="0.5" stroke-linejoin="round"/>
<line x1="430.2" y1="819.5" x2="430.2" y2="900.6" stroke="#222" stroke-width="0.6" />
<rect x="428.8" y="882.2" width="2.9" height="16.8" fill="#fff" stroke="#222" stroke-width="0.45"/>
<line x1="428.8" y1="895.8" x2="431.7" y2="895.8" stroke="#222" stroke-width="0.7" />
<path d="M461.2,817.1 L460.8,830.0 L459.9,845.0 L458.5,858.0 L456.6,870.0 L454.4,880.0 L452.3,888.0 L451.4,894.2 L452.3,898.0 L453.4,900.6 L470.4,900.6 L471.5,898.0 L472.4,894.2 L471.5,888.0 L469.4,880.0 L467.2,870.0 L465.3,858.0 L463.9,845.0 L463.0,830.0 L462.6,817.1 Z" fill="#6c3fa0" stroke="#333" stroke-width="0.5" stroke-linejoin="round"/>
<line x1="461.9" y1="817.1" x2="461.9" y2="900.6" stroke="#222" stroke-width="0.6" />
<rect x="460.4" y="874.1" width="2.9" height="24.1" fill="#fff" stroke="#222" stroke-width="0.45"/>
<line x1="460.4" y1="891.0" x2="463.3" y2="891.0" stroke="#222" stroke-width="0.7" />
<path d="M502.6,813.9 L502.6,905.1 L570.9,905.1" fill="none" stroke="#333" stroke-width="0.9"/>
<line x1="501.3" y1="902.9" x2="502.6" y2="902.9" stroke="#333" stroke-width="0.6" />
<text transform="translate(501.2,902.9) rotate(-90)" font-size="7.3" text-anchor="middle" fill="#222" >0</text>
<line x1="501.3" y1="878.7" x2="502.6" y2="878.7" stroke="#333" stroke-width="0.6" />
<text transform="translate(501.2,878.7) rotate(-90)" font-size="7.3" text-anchor="middle" fill="#222" >2.5</text>
<line x1="501.3" y1="854.5" x2="502.6" y2="854.5" stroke="#333" stroke-width="0.6" />
<text transform="translate(501.2,854.5) rotate(-90)" font-size="7.3" text-anchor="middle" fill="#222" >5</text>
<line x1="501.3" y1="830.3" x2="502.6" y2="830.3" stroke="#333" stroke-width="0.6" />
<text transform="translate(501.2,830.3) rotate(-90)" font-size="7.3" text-anchor="middle" fill="#222" >7.5</text>
<path d="M520.6,844.4 L519.5,852.0 L517.9,860.0 L516.5,866.0 L515.9,872.0 L516.5,878.0 L516.9,883.0 L515.5,887.0 L512.6,891.0 L509.1,894.5 L507.2,897.4 L508.3,899.6 L510.6,901.0 L531.6,901.0 L533.9,899.6 L535.0,897.4 L533.1,894.5 L529.6,891.0 L526.7,887.0 L525.3,883.0 L525.7,878.0 L526.3,872.0 L525.7,866.0 L524.3,860.0 L522.7,852.0 L521.6,844.4 Z" fill="#56a334" stroke="#333" stroke-width="0.5" stroke-linejoin="round"/>
<line x1="521.1" y1="844.4" x2="521.1" y2="901.0" stroke="#222" stroke-width="0.6" />
<rect x="519.8" y="879" width="2.7" height="20.3" fill="#fff" stroke="#222" stroke-width="0.45"/>
<line x1="519.8" y1="894.2" x2="522.5" y2="894.2" stroke="#222" stroke-width="0.7" />
<path d="M551.1,821.1 L550.6,835.0 L549.6,848.0 L548.3,860.0 L546.7,872.0 L545.1,884.0 L544.2,891.0 L544.0,895.0 L544.5,898.5 L546.1,901.0 L557.7,901.0 L559.3,898.5 L559.8,895.0 L559.6,891.0 L558.7,884.0 L557.1,872.0 L555.5,860.0 L554.2,848.0 L553.2,835.0 L552.7,821.1 Z" fill="#6c3fa0" stroke="#333" stroke-width="0.5" stroke-linejoin="round"/>
<line x1="551.9" y1="821.1" x2="551.9" y2="901.0" stroke="#222" stroke-width="0.6" />
<rect x="550.6" y="865.6" width="2.6" height="31.3" fill="#fff" stroke="#222" stroke-width="0.45"/>
<line x1="550.6" y1="884.6" x2="553.2" y2="884.6" stroke="#222" stroke-width="0.7" />
<path d="M590.6,813.9 L590.6,905.1 L660.6,905.1" fill="none" stroke="#333" stroke-width="0.9"/>
<line x1="589.3" y1="901.7" x2="590.6" y2="901.7" stroke="#333" stroke-width="0.6" />
<text transform="translate(588.5,901.7) rotate(-90)" font-size="7.3" text-anchor="middle" fill="#222" >0</text>
<line x1="589.3" y1="878.3" x2="590.6" y2="878.3" stroke="#333" stroke-width="0.6" />
<text transform="translate(588.5,878.3) rotate(-90)" font-size="7.3" text-anchor="middle" fill="#222" >20</text>
<line x1="589.3" y1="854.9" x2="590.6" y2="854.9" stroke="#333" stroke-width="0.6" />
<text transform="translate(588.5,854.9) rotate(-90)" font-size="7.3" text-anchor="middle" fill="#222" >40</text>
<line x1="589.3" y1="831.5" x2="590.6" y2="831.5" stroke="#333" stroke-width="0.6" />
<text transform="translate(588.5,831.5) rotate(-90)" font-size="7.3" text-anchor="middle" fill="#222" >60</text>
<path d="M608.6,817.9 L607.7,822.0 L606.1,828.0 L604.2,836.0 L601.9,845.0 L599.2,855.7 L597.1,865.0 L596.1,872.0 L596.5,877.0 L598.7,883.0 L601.9,889.0 L604.5,894.0 L605.6,897.0 L605.9,899.3 L613.1,899.3 L613.4,897.0 L614.5,894.0 L617.1,889.0 L620.3,883.0 L622.5,877.0 L622.9,872.0 L621.9,865.0 L619.8,855.7 L617.1,845.0 L614.8,836.0 L612.9,828.0 L611.3,822.0 L610.4,817.9 Z" fill="#56a334" stroke="#333" stroke-width="0.5" stroke-linejoin="round"/>
<line x1="609.7" y1="817.9" x2="609.7" y2="899.3" stroke="#222" stroke-width="0.6" />
<rect x="607.9" y="853.7" width="3.6" height="24.0" fill="#fff" stroke="#222" stroke-width="0.45"/>
<line x1="607.9" y1="867.2" x2="611.5" y2="867.2" stroke="#222" stroke-width="0.7" />
<path d="M639.4,817.9 L639.0,820.5 L639.1,824.0 L639.6,829.0 L639.6,834.0 L638.5,841.0 L636.8,849.0 L634.7,856.0 L632.3,862.0 L629.8,868.0 L627.7,874.0 L627.1,879.0 L627.7,884.0 L629.7,889.0 L632.7,894.0 L634.8,898.0 L635.7,900.6 L646.9,900.6 L647.8,898.0 L649.9,894.0 L652.9,889.0 L654.9,884.0 L655.5,879.0 L654.9,874.0 L652.8,868.0 L650.3,862.0 L647.9,856.0 L645.8,849.0 L644.1,841.0 L643.0,834.0 L643.0,829.0 L643.5,824.0 L643.6,820.5 L643.2,817.9 Z" fill="#6c3fa0" stroke="#333" stroke-width="0.5" stroke-linejoin="round"/>
<line x1="641.5" y1="817.9" x2="641.5" y2="900.6" stroke="#222" stroke-width="0.6" />
<rect x="639.7" y="861" width="3.6" height="24.7" fill="#fff" stroke="#222" stroke-width="0.45"/>
<line x1="639.7" y1="875.3" x2="643.3" y2="875.3" stroke="#222" stroke-width="0.7" />
<text x="433.3" y="778.7" font-size="7.6" text-anchor="middle" fill="#222" >2</text>
<text x="463.6" y="778.7" font-size="7.6" text-anchor="middle" fill="#222" >3</text>
<text x="520.6" y="778.7" font-size="7.6" text-anchor="middle" fill="#222" >2</text>
<text x="550.0" y="778.7" font-size="7.6" text-anchor="middle" fill="#222" >3</text>
<text x="611.6" y="778.7" font-size="7.6" text-anchor="middle" fill="#222" >2</text>
<text x="641.7" y="778.7" font-size="7.6" text-anchor="middle" fill="#222" >3</text>
<text x="430.2" y="912.7" font-size="7.6" text-anchor="middle" fill="#222" >2</text>
<text x="461.9" y="912.7" font-size="7.6" text-anchor="middle" fill="#222" >3</text>
<text x="521.1" y="912.7" font-size="7.6" text-anchor="middle" fill="#222" >2</text>
<text x="551.9" y="912.7" font-size="7.6" text-anchor="middle" fill="#222" >3</text>
<text x="609.5" y="912.7" font-size="7.6" text-anchor="middle" fill="#222" >2</text>
<text x="641.3" y="912.7" font-size="7.6" text-anchor="middle" fill="#222" >3</text>
<text x="445.0" y="788.4" font-size="10" text-anchor="middle" fill="#111" >Grade</text>
<text x="446.8" y="923.4" font-size="10" text-anchor="middle" fill="#111" >Grade</text>
<text transform="translate(399.2,721.0) rotate(-90)" font-size="10" text-anchor="middle" fill="#111" >Mean CD3 (%)</text>
<text transform="translate(490.6,720.7) rotate(-90)" font-size="10" text-anchor="middle" fill="#111" >Mean CD68 (%)</text>
<text transform="translate(581.4,718) rotate(-90)" font-size="10" text-anchor="middle" fill="#111">Mean <tspan font-family="Liberation Serif">α</tspan> SMA (%)</text>
<text transform="translate(399.2,856.5) rotate(-90)" font-size="9.2" text-anchor="middle" fill="#111" >T-cells (%)</text>
<text transform="translate(488.6,855.2) rotate(-90)" font-size="9.2" text-anchor="middle" fill="#111" >Macrophages (%)</text>
<text transform="translate(577.3,856.0) rotate(-90)" font-size="9.0" text-anchor="middle" fill="#111" >Fibroblasts (%)</text>
<text x="445.0" y="657.5" font-size="7.3" text-anchor="middle" fill="#111"><tspan font-style="italic">p</tspan> = 0.002</text>
<text x="445.0" y="666.4" font-size="7.3" text-anchor="middle" fill="#111"><tspan font-style="italic">p</tspan><tspan font-size="4.5" dy="1.6" font-style="italic">adj.</tspan><tspan dy="-1.6"> n.s</tspan></text>
<line x1="428.7" y1="670.5" x2="460.0" y2="670.5" stroke="#aaa" stroke-width="0.9" />
<text x="535.4" y="657.5" font-size="7.3" text-anchor="middle" fill="#111"><tspan font-style="italic">p</tspan> = 0.02</text>
<text x="534.9" y="666.4" font-size="7.3" text-anchor="middle" fill="#111"><tspan font-style="italic">p</tspan><tspan font-size="4.5" dy="1.6" font-style="italic">adj.</tspan><tspan dy="-1.6"> n.s</tspan></text>
<line x1="519.5" y1="670.5" x2="550.6" y2="670.5" stroke="#aaa" stroke-width="0.9" />
<text x="629.5" y="657.1" font-size="7.3" text-anchor="middle" fill="#111"><tspan font-style="italic">p</tspan> = 2.8 x 10<tspan font-size="4.4" dy="-2.8">−7</tspan></text>
<text x="630.4" y="666.5" font-size="7.3" text-anchor="middle" fill="#111"><tspan font-style="italic">p</tspan><tspan font-size="4.5" dy="1.6" font-style="italic">adj.</tspan><tspan dy="-1.6"> = 0.016</tspan></text>
<line x1="611.6" y1="670.7" x2="643.9" y2="670.7" stroke="#aaa" stroke-width="0.9" />
<text x="444.7" y="809.9" font-size="7.3" text-anchor="middle" fill="#111"><tspan font-style="italic">p</tspan> = 0.076</text>
<line x1="425.9" y1="812.3" x2="463.9" y2="812.3" stroke="#555" stroke-width="0.7" />
<text x="534.0" y="809.9" font-size="7.3" text-anchor="middle" fill="#111"><tspan font-style="italic">p</tspan> = 6 x 10<tspan font-size="4.4" dy="-2.8">−4</tspan></text>
<line x1="516.9" y1="811.8" x2="554.3" y2="811.8" stroke="#aaa" stroke-width="0.9" />
<text x="632.0" y="809.9" font-size="7.3" text-anchor="middle" fill="#111"><tspan font-style="italic">p</tspan> = 0.02</text>
<line x1="612.7" y1="812.3" x2="650.8" y2="812.3" stroke="#555" stroke-width="0.7" />
<rect x="662" y="672.7" width="46" height="93.5" rx="11.5" fill="#faeeee"/>
<rect x="662" y="806.4" width="46" height="93.9" rx="11.5" fill="#faeeee"/>
<text transform="translate(670.1,719.4) rotate(90)" font-size="7.6" text-anchor="middle" fill="#111" >MS-based Proteomics</text>
<text transform="translate(670.4,853.0) rotate(90)" font-size="7.7" text-anchor="middle" fill="#111" >Imaging Mass Cytometry</text>
</svg></body></html>
